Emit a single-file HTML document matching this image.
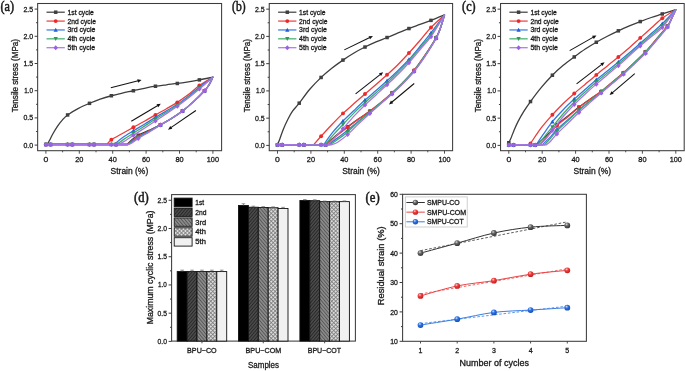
<!DOCTYPE html>
<html><head><meta charset="utf-8"><title>Cyclic tensile tests</title>
<style>html,body{margin:0;padding:0;background:#fff;width:685px;height:371px;overflow:hidden}
svg{display:block;will-change:transform}</style></head><body>
<svg width="685" height="371" viewBox="0 0 685 371" font-family='"Liberation Sans", sans-serif'><defs>
<pattern id="p2" patternUnits="userSpaceOnUse" width="2.4" height="2.4" patternTransform="rotate(40)">
 <rect width="2.4" height="2.4" fill="#4c4c4c"/><rect width="0.9" height="2.4" fill="#262626"/></pattern>
<pattern id="p3" patternUnits="userSpaceOnUse" width="2.5" height="2.5" patternTransform="rotate(-40)">
 <rect width="2.5" height="2.5" fill="#8c8c8c"/><rect width="0.9" height="2.5" fill="#555"/></pattern>
<pattern id="p4" patternUnits="userSpaceOnUse" width="2.76" height="2.76" patternTransform="rotate(45)">
 <rect width="2.76" height="2.76" fill="#dcdcdc"/><rect width="0.8" height="2.76" fill="#7c7c7c"/><rect width="2.76" height="0.8" fill="#7c7c7c"/></pattern>

<radialGradient id="gk" cx="0.38" cy="0.32" r="0.75"><stop offset="0" stop-color="#d8d8d8"/><stop offset="0.35" stop-color="#6a6a6a"/><stop offset="1" stop-color="#2a2a2a"/></radialGradient>
<radialGradient id="gr" cx="0.38" cy="0.32" r="0.75"><stop offset="0" stop-color="#ffd0d0"/><stop offset="0.35" stop-color="#f04040"/><stop offset="1" stop-color="#b81818"/></radialGradient>
<radialGradient id="gb" cx="0.38" cy="0.32" r="0.75"><stop offset="0" stop-color="#cfe0ff"/><stop offset="0.35" stop-color="#2f74e6"/><stop offset="1" stop-color="#1447a8"/></radialGradient>
</defs><rect width="685" height="371" fill="#fff"/>
<rect x="37.65" y="3.5" width="183.95" height="147.2" fill="none" stroke="#3c3c3c" stroke-width="1.05"/>
<line x1="45.9" y1="150.7" x2="45.9" y2="153.7" stroke="#3c3c3c" stroke-width="0.9"/>
<text x="45.9" y="161.7" font-size="7.6" text-anchor="middle" fill="#1a1a1a" stroke="#1a1a1a" stroke-width="0.3" textLength="4.8" lengthAdjust="spacingAndGlyphs">0</text>
<line x1="62.6" y1="150.7" x2="62.6" y2="152.3" stroke="#3c3c3c" stroke-width="0.9"/>
<line x1="79.3" y1="150.7" x2="79.3" y2="153.7" stroke="#3c3c3c" stroke-width="0.9"/>
<text x="79.3" y="161.7" font-size="7.6" text-anchor="middle" fill="#1a1a1a" stroke="#1a1a1a" stroke-width="0.3" textLength="8.2" lengthAdjust="spacingAndGlyphs">20</text>
<line x1="96" y1="150.7" x2="96" y2="152.3" stroke="#3c3c3c" stroke-width="0.9"/>
<line x1="112.7" y1="150.7" x2="112.7" y2="153.7" stroke="#3c3c3c" stroke-width="0.9"/>
<text x="112.7" y="161.7" font-size="7.6" text-anchor="middle" fill="#1a1a1a" stroke="#1a1a1a" stroke-width="0.3" textLength="8.2" lengthAdjust="spacingAndGlyphs">40</text>
<line x1="129.4" y1="150.7" x2="129.4" y2="152.3" stroke="#3c3c3c" stroke-width="0.9"/>
<line x1="146.1" y1="150.7" x2="146.1" y2="153.7" stroke="#3c3c3c" stroke-width="0.9"/>
<text x="146.1" y="161.7" font-size="7.6" text-anchor="middle" fill="#1a1a1a" stroke="#1a1a1a" stroke-width="0.3" textLength="8.2" lengthAdjust="spacingAndGlyphs">60</text>
<line x1="162.8" y1="150.7" x2="162.8" y2="152.3" stroke="#3c3c3c" stroke-width="0.9"/>
<line x1="179.5" y1="150.7" x2="179.5" y2="153.7" stroke="#3c3c3c" stroke-width="0.9"/>
<text x="179.5" y="161.7" font-size="7.6" text-anchor="middle" fill="#1a1a1a" stroke="#1a1a1a" stroke-width="0.3" textLength="8.2" lengthAdjust="spacingAndGlyphs">80</text>
<line x1="196.2" y1="150.7" x2="196.2" y2="152.3" stroke="#3c3c3c" stroke-width="0.9"/>
<line x1="212.9" y1="150.7" x2="212.9" y2="153.7" stroke="#3c3c3c" stroke-width="0.9"/>
<text x="212.9" y="161.7" font-size="7.6" text-anchor="middle" fill="#1a1a1a" stroke="#1a1a1a" stroke-width="0.3" textLength="12.2" lengthAdjust="spacingAndGlyphs">100</text>
<line x1="37.65" y1="145.1" x2="34.65" y2="145.1" stroke="#3c3c3c" stroke-width="1"/>
<text x="33.15" y="147.6" font-size="7.8" text-anchor="end" fill="#1a1a1a" stroke="#1a1a1a" stroke-width="0.3" textLength="9.7" lengthAdjust="spacingAndGlyphs">0.0</text>
<line x1="37.65" y1="131.5" x2="36.05" y2="131.5" stroke="#3c3c3c" stroke-width="1"/>
<line x1="37.65" y1="117.9" x2="34.65" y2="117.9" stroke="#3c3c3c" stroke-width="1"/>
<text x="33.15" y="120.4" font-size="7.8" text-anchor="end" fill="#1a1a1a" stroke="#1a1a1a" stroke-width="0.3" textLength="9.7" lengthAdjust="spacingAndGlyphs">0.5</text>
<line x1="37.65" y1="104.3" x2="36.05" y2="104.3" stroke="#3c3c3c" stroke-width="1"/>
<line x1="37.65" y1="90.7" x2="34.65" y2="90.7" stroke="#3c3c3c" stroke-width="1"/>
<text x="33.15" y="93.2" font-size="7.8" text-anchor="end" fill="#1a1a1a" stroke="#1a1a1a" stroke-width="0.3" textLength="8.8" lengthAdjust="spacingAndGlyphs">1.0</text>
<line x1="37.65" y1="77.1" x2="36.05" y2="77.1" stroke="#3c3c3c" stroke-width="1"/>
<line x1="37.65" y1="63.5" x2="34.65" y2="63.5" stroke="#3c3c3c" stroke-width="1"/>
<text x="33.15" y="66" font-size="7.8" text-anchor="end" fill="#1a1a1a" stroke="#1a1a1a" stroke-width="0.3" textLength="9.7" lengthAdjust="spacingAndGlyphs">1.5</text>
<line x1="37.65" y1="49.9" x2="36.05" y2="49.9" stroke="#3c3c3c" stroke-width="1"/>
<line x1="37.65" y1="36.3" x2="34.65" y2="36.3" stroke="#3c3c3c" stroke-width="1"/>
<text x="33.15" y="38.8" font-size="7.8" text-anchor="end" fill="#1a1a1a" stroke="#1a1a1a" stroke-width="0.3" textLength="9.7" lengthAdjust="spacingAndGlyphs">2.0</text>
<line x1="37.65" y1="22.7" x2="36.05" y2="22.7" stroke="#3c3c3c" stroke-width="1"/>
<line x1="37.65" y1="9.1" x2="34.65" y2="9.1" stroke="#3c3c3c" stroke-width="1"/>
<text x="33.15" y="11.6" font-size="7.8" text-anchor="end" fill="#1a1a1a" stroke="#1a1a1a" stroke-width="0.3" textLength="9.7" lengthAdjust="spacingAndGlyphs">2.5</text>
<text x="129.4" y="174.2" font-size="8.6" text-anchor="middle" fill="#1a1a1a" stroke="#1a1a1a" stroke-width="0.3" textLength="37.6" lengthAdjust="spacingAndGlyphs">Strain (%)</text>
<text x="18.1" y="75.6" font-size="8.3" text-anchor="middle" fill="#1a1a1a" stroke="#1a1a1a" stroke-width="0.3" textLength="73.2" lengthAdjust="spacingAndGlyphs" transform="rotate(-90 18.1 75.6)">Tensile stress (MPa)</text>
<text x="0.5" y="10.7" font-size="14.6" text-anchor="start" fill="#1a1a1a" stroke="#1a1a1a" stroke-width="0.55" textLength="13.6" lengthAdjust="spacingAndGlyphs" font-family='"Liberation Serif", serif'>(a)</text>
<path d="M45.9,144.5L47.24,144.5L47.24,144.5C47.63,143.79 48.63,142.05 49.57,140.25C50.52,138.46 51.58,136.08 52.91,133.73C54.25,131.37 56.03,128.38 57.59,126.11C59.15,123.84 60.6,121.98 62.27,120.13C63.94,118.27 64.91,116.91 67.61,114.96C70.31,113.01 74.79,110.38 78.47,108.43C82.14,106.48 86.04,104.8 89.65,103.26C93.27,101.72 96.56,100.43 100.17,99.18C103.79,97.93 107.66,96.78 111.36,95.75C115.07,94.73 118.71,93.87 122.39,93.03C126.06,92.2 129.73,91.54 133.41,90.75C137.08,89.96 140.76,89.05 144.43,88.3C148.1,87.55 151.78,86.82 155.45,86.23C159.13,85.65 162.83,85.23 166.47,84.77C170.12,84.3 173.68,83.96 177.33,83.46C180.98,82.96 184.68,82.37 188.35,81.77C192.03,81.18 195.28,80.64 199.37,79.87C203.46,79.1 210.65,77.6 212.9,77.15L212.9,77.15C212.2,78.51 210.12,83.04 208.72,85.31C207.33,87.58 207.08,88.03 204.55,90.75C202.02,93.47 197.2,98.25 193.53,101.63C189.85,105.01 186.18,108.23 182.51,111.04C178.83,113.85 175.16,116.21 171.48,118.49C167.81,120.77 164.14,122.79 160.46,124.72C156.79,126.65 153.14,128.32 149.44,130.08C145.74,131.84 141.17,133.66 138.25,135.26C135.33,136.86 133.77,138.17 131.91,139.71C130.04,141.25 127.87,143.7 127.06,144.5L46.4,144.25" fill="none" stroke="#3d3d3d" stroke-width="1.3" stroke-linejoin="round"/>
<rect x="44.15" y="142.75" width="3.5" height="3.5" fill="#404040"/>
<rect x="65.86" y="113.21" width="3.5" height="3.5" fill="#404040"/>
<rect x="87.74" y="101.59" width="3.5" height="3.5" fill="#404040"/>
<rect x="109.61" y="94" width="3.5" height="3.5" fill="#404040"/>
<rect x="131.66" y="89" width="3.5" height="3.5" fill="#404040"/>
<rect x="153.7" y="84.48" width="3.5" height="3.5" fill="#404040"/>
<rect x="175.58" y="81.71" width="3.5" height="3.5" fill="#404040"/>
<rect x="197.62" y="78.12" width="3.5" height="3.5" fill="#404040"/>
<rect x="202.8" y="89" width="3.5" height="3.5" fill="#404040"/>
<rect x="180.76" y="109.29" width="3.5" height="3.5" fill="#404040"/>
<rect x="158.71" y="122.97" width="3.5" height="3.5" fill="#404040"/>
<rect x="136.5" y="133.51" width="3.5" height="3.5" fill="#404040"/>
<rect x="114.29" y="142.75" width="3.5" height="3.5" fill="#404040"/>
<rect x="92.25" y="142.75" width="3.5" height="3.5" fill="#404040"/>
<rect x="70.54" y="142.75" width="3.5" height="3.5" fill="#404040"/>
<rect x="48.83" y="142.75" width="3.5" height="3.5" fill="#404040"/>
<path d="M45.9,144.5L106.69,144.5L106.69,144.5C107.47,143.7 108.75,141.55 111.36,139.71C113.98,137.87 118.71,135.52 122.39,133.45C126.06,131.39 129.73,129.35 133.41,127.31C137.08,125.27 140.76,123.29 144.43,121.21C148.1,119.14 151.78,116.93 155.45,114.85C159.13,112.76 162.83,110.79 166.47,108.7C170.12,106.62 173.68,104.69 177.33,102.34C180.98,99.98 184.68,97.36 188.35,94.56C192.03,91.76 195.28,88.43 199.37,85.53C203.46,82.63 210.65,78.55 212.9,77.15L212.9,77.15C212.2,78.51 210.12,83.04 208.72,85.31C207.33,87.58 207.08,88.03 204.55,90.75C202.02,93.47 197.2,98.25 193.53,101.63C189.85,105.01 186.18,108.23 182.51,111.04C178.83,113.85 175.16,116.2 171.48,118.49C167.81,120.79 164.14,122.79 160.46,124.82C156.79,126.85 153.14,128.74 149.44,130.66C145.74,132.58 141.17,134.64 138.25,136.33C135.33,138.02 133.69,139.44 131.91,140.8C130.12,142.16 128.29,143.88 127.56,144.5L46.4,144.25" fill="none" stroke="#ee3b3b" stroke-width="1.3" stroke-linejoin="round"/>
<circle cx="45.9" cy="144.5" r="1.95" fill="#ea2a2a"/>
<circle cx="67.61" cy="144.5" r="1.95" fill="#ea2a2a"/>
<circle cx="89.49" cy="144.5" r="1.95" fill="#ea2a2a"/>
<circle cx="111.36" cy="139.71" r="1.95" fill="#ea2a2a"/>
<circle cx="133.41" cy="127.31" r="1.95" fill="#ea2a2a"/>
<circle cx="155.45" cy="114.85" r="1.95" fill="#ea2a2a"/>
<circle cx="177.33" cy="102.34" r="1.95" fill="#ea2a2a"/>
<circle cx="199.37" cy="85.53" r="1.95" fill="#ea2a2a"/>
<circle cx="204.55" cy="90.75" r="1.95" fill="#ea2a2a"/>
<circle cx="182.51" cy="111.04" r="1.95" fill="#ea2a2a"/>
<circle cx="160.46" cy="124.82" r="1.95" fill="#ea2a2a"/>
<circle cx="138.25" cy="136.33" r="1.95" fill="#ea2a2a"/>
<circle cx="116.04" cy="144.5" r="1.95" fill="#ea2a2a"/>
<circle cx="94" cy="144.5" r="1.95" fill="#ea2a2a"/>
<circle cx="72.29" cy="144.5" r="1.95" fill="#ea2a2a"/>
<circle cx="50.58" cy="144.5" r="1.95" fill="#ea2a2a"/>
<path d="M45.9,144.5L114.04,144.5L114.04,144.5C115.48,143.34 119.49,139.81 122.72,137.53C125.95,135.26 129.79,133.06 133.41,130.84C137.03,128.62 140.76,126.45 144.43,124.21C148.1,121.96 151.78,119.57 155.45,117.35C159.13,115.13 162.83,113.04 166.47,110.88C170.12,108.71 173.68,106.8 177.33,104.35C180.98,101.9 184.68,99.05 188.35,96.19C192.03,93.33 195.28,90.39 199.37,87.21C203.46,84.04 210.65,78.83 212.9,77.15L212.9,77.15C212.2,78.51 210.12,83.04 208.72,85.31C207.33,87.58 207.08,88.03 204.55,90.75C202.02,93.47 197.2,98.25 193.53,101.63C189.85,105.01 186.18,108.23 182.51,111.04C178.83,113.85 175.16,116.19 171.48,118.49C167.81,120.8 164.14,122.79 160.46,124.9C156.79,127 153.14,129.06 149.44,131.1C145.74,133.14 141.17,135.37 138.25,137.13C135.33,138.88 133.66,140.39 131.91,141.61C130.15,142.84 128.43,144.02 127.73,144.5L46.4,144.25" fill="none" stroke="#3477e0" stroke-width="1.3" stroke-linejoin="round"/>
<path d="M45.9,142.25L48.05,146.25L43.75,146.25Z" fill="#1f5fd6"/>
<path d="M67.61,142.25L69.76,146.25L65.46,146.25Z" fill="#1f5fd6"/>
<path d="M89.49,142.25L91.64,146.25L87.34,146.25Z" fill="#1f5fd6"/>
<path d="M111.36,142.25L113.51,146.25L109.21,146.25Z" fill="#1f5fd6"/>
<path d="M133.41,128.59L135.56,132.59L131.26,132.59Z" fill="#1f5fd6"/>
<path d="M155.45,115.1L157.6,119.1L153.3,119.1Z" fill="#1f5fd6"/>
<path d="M177.33,102.1L179.48,106.1L175.18,106.1Z" fill="#1f5fd6"/>
<path d="M199.37,84.96L201.52,88.96L197.22,88.96Z" fill="#1f5fd6"/>
<path d="M204.55,88.5L206.7,92.5L202.4,92.5Z" fill="#1f5fd6"/>
<path d="M182.51,108.79L184.66,112.79L180.36,112.79Z" fill="#1f5fd6"/>
<path d="M160.46,122.65L162.61,126.65L158.31,126.65Z" fill="#1f5fd6"/>
<path d="M138.25,134.88L140.4,138.88L136.1,138.88Z" fill="#1f5fd6"/>
<path d="M116.04,142.25L118.19,146.25L113.89,146.25Z" fill="#1f5fd6"/>
<path d="M94,142.25L96.15,146.25L91.85,146.25Z" fill="#1f5fd6"/>
<path d="M72.29,142.25L74.44,146.25L70.14,146.25Z" fill="#1f5fd6"/>
<path d="M50.58,142.25L52.73,146.25L48.43,146.25Z" fill="#1f5fd6"/>
<path d="M45.9,144.5L116.54,144.5L116.54,144.5C117.85,143.56 121.58,140.8 124.39,138.89C127.2,136.99 130.07,135.2 133.41,133.07C136.75,130.94 140.76,128.45 144.43,126.11C148.1,123.77 151.78,121.35 155.45,119.04C159.13,116.73 162.83,114.5 166.47,112.24C170.12,109.97 173.68,107.93 177.33,105.44C180.98,102.94 184.68,100.13 188.35,97.28C192.03,94.42 195.28,91.66 199.37,88.3C203.46,84.95 210.65,79.01 212.9,77.15L212.9,77.15C212.2,78.51 210.12,83.04 208.72,85.31C207.33,87.58 207.08,88.03 204.55,90.75C202.02,93.47 197.2,98.25 193.53,101.63C189.85,105.01 186.18,108.23 182.51,111.04C178.83,113.85 175.16,116.17 171.48,118.49C167.81,120.81 164.14,122.8 160.46,124.96C156.79,127.12 153.14,129.33 149.44,131.47C145.74,133.62 141.17,136.01 138.25,137.82C135.33,139.63 133.6,141.21 131.91,142.32C130.21,143.43 128.7,144.13 128.06,144.5L46.4,144.25" fill="none" stroke="#3cae68" stroke-width="1.3" stroke-linejoin="round"/>
<path d="M45.9,146.75L48.05,142.75L43.75,142.75Z" fill="#2a9c55"/>
<path d="M67.61,146.75L69.76,142.75L65.46,142.75Z" fill="#2a9c55"/>
<path d="M89.49,146.75L91.64,142.75L87.34,142.75Z" fill="#2a9c55"/>
<path d="M111.36,146.75L113.51,142.75L109.21,142.75Z" fill="#2a9c55"/>
<path d="M133.41,135.32L135.56,131.32L131.26,131.32Z" fill="#2a9c55"/>
<path d="M155.45,121.29L157.6,117.29L153.3,117.29Z" fill="#2a9c55"/>
<path d="M177.33,107.69L179.48,103.69L175.18,103.69Z" fill="#2a9c55"/>
<path d="M199.37,90.55L201.52,86.55L197.22,86.55Z" fill="#2a9c55"/>
<path d="M204.55,93L206.7,89L202.4,89Z" fill="#2a9c55"/>
<path d="M182.51,113.29L184.66,109.29L180.36,109.29Z" fill="#2a9c55"/>
<path d="M160.46,127.21L162.61,123.21L158.31,123.21Z" fill="#2a9c55"/>
<path d="M138.25,140.07L140.4,136.07L136.1,136.07Z" fill="#2a9c55"/>
<path d="M116.04,146.75L118.19,142.75L113.89,142.75Z" fill="#2a9c55"/>
<path d="M94,146.75L96.15,142.75L91.85,142.75Z" fill="#2a9c55"/>
<path d="M72.29,146.75L74.44,142.75L70.14,142.75Z" fill="#2a9c55"/>
<path d="M50.58,146.75L52.73,142.75L48.43,142.75Z" fill="#2a9c55"/>
<path d="M45.9,144.5L118.71,144.5L118.71,144.5C119.88,143.84 123.28,142.05 125.73,140.53C128.18,139 130.29,137.42 133.41,135.36C136.53,133.3 140.76,130.58 144.43,128.18C148.1,125.77 151.78,123.37 155.45,120.94C159.13,118.51 162.83,116.05 166.47,113.6C170.12,111.15 173.68,108.84 177.33,106.25C180.98,103.67 184.68,100.95 188.35,98.09C192.03,95.24 195.28,92.61 199.37,89.12C203.46,85.63 210.65,79.14 212.9,77.15L212.9,77.15C212.2,78.51 210.12,83.04 208.72,85.31C207.33,87.58 207.08,88.03 204.55,90.75C202.02,93.47 197.2,98.25 193.53,101.63C189.85,105.01 186.18,108.23 182.51,111.04C178.83,113.85 175.16,116.16 171.48,118.49C167.81,120.82 164.14,122.8 160.46,125.02C156.79,127.24 153.14,129.58 149.44,131.82C145.74,134.06 141.17,136.6 138.25,138.46C135.33,140.32 133.57,141.97 131.91,142.97C130.24,143.98 128.84,144.24 128.23,144.5L46.4,144.25" fill="none" stroke="#a874e8" stroke-width="1.3" stroke-linejoin="round"/>
<path d="M45.9,142L48.2,144.5L45.9,147L43.6,144.5Z" fill="#9c60e4"/>
<path d="M67.61,142L69.91,144.5L67.61,147L65.31,144.5Z" fill="#9c60e4"/>
<path d="M89.49,142L91.79,144.5L89.49,147L87.19,144.5Z" fill="#9c60e4"/>
<path d="M111.36,142L113.66,144.5L111.36,147L109.06,144.5Z" fill="#9c60e4"/>
<path d="M133.41,132.86L135.71,135.36L133.41,137.86L131.11,135.36Z" fill="#9c60e4"/>
<path d="M155.45,118.44L157.75,120.94L155.45,123.44L153.15,120.94Z" fill="#9c60e4"/>
<path d="M177.33,103.75L179.63,106.25L177.33,108.75L175.03,106.25Z" fill="#9c60e4"/>
<path d="M199.37,86.62L201.67,89.12L199.37,91.62L197.07,89.12Z" fill="#9c60e4"/>
<path d="M204.55,88.25L206.85,90.75L204.55,93.25L202.25,90.75Z" fill="#9c60e4"/>
<path d="M182.51,108.54L184.81,111.04L182.51,113.54L180.21,111.04Z" fill="#9c60e4"/>
<path d="M160.46,122.52L162.76,125.02L160.46,127.52L158.16,125.02Z" fill="#9c60e4"/>
<path d="M138.25,135.96L140.55,138.46L138.25,140.96L135.95,138.46Z" fill="#9c60e4"/>
<path d="M116.04,142L118.34,144.5L116.04,147L113.74,144.5Z" fill="#9c60e4"/>
<path d="M94,142L96.3,144.5L94,147L91.7,144.5Z" fill="#9c60e4"/>
<path d="M72.29,142L74.59,144.5L72.29,147L69.99,144.5Z" fill="#9c60e4"/>
<path d="M50.58,142L52.88,144.5L50.58,147L48.28,144.5Z" fill="#9c60e4"/>
<line x1="46.5" y1="12.2" x2="64.8" y2="12.2" stroke="#3d3d3d" stroke-width="1.2"/>
<rect x="53.95" y="10.45" width="3.5" height="3.5" fill="#404040"/>
<text x="67.5" y="14.65" font-size="7.2" text-anchor="start" fill="#1a1a1a" stroke="#1a1a1a" stroke-width="0.3" textLength="26.3" lengthAdjust="spacingAndGlyphs">1st cycle</text>
<line x1="46.5" y1="21.08" x2="64.8" y2="21.08" stroke="#ee3b3b" stroke-width="1.2"/>
<circle cx="55.7" cy="21.08" r="1.95" fill="#ea2a2a"/>
<text x="67.5" y="23.53" font-size="7.2" text-anchor="start" fill="#1a1a1a" stroke="#1a1a1a" stroke-width="0.3" textLength="28.4" lengthAdjust="spacingAndGlyphs">2nd cycle</text>
<line x1="46.5" y1="29.96" x2="64.8" y2="29.96" stroke="#3477e0" stroke-width="1.2"/>
<path d="M55.7,27.71L57.85,31.71L53.55,31.71Z" fill="#1f5fd6"/>
<text x="67.5" y="32.41" font-size="7.2" text-anchor="start" fill="#1a1a1a" stroke="#1a1a1a" stroke-width="0.3" textLength="27.8" lengthAdjust="spacingAndGlyphs">3rd cycle</text>
<line x1="46.5" y1="38.84" x2="64.8" y2="38.84" stroke="#3cae68" stroke-width="1.2"/>
<path d="M55.7,41.09L57.85,37.09L53.55,37.09Z" fill="#2a9c55"/>
<text x="67.5" y="41.29" font-size="7.2" text-anchor="start" fill="#1a1a1a" stroke="#1a1a1a" stroke-width="0.3" textLength="27.6" lengthAdjust="spacingAndGlyphs">4th cycle</text>
<line x1="46.5" y1="47.72" x2="64.8" y2="47.72" stroke="#a874e8" stroke-width="1.2"/>
<path d="M55.7,45.22L58,47.72L55.7,50.22L53.4,47.72Z" fill="#9c60e4"/>
<text x="67.5" y="50.17" font-size="7.2" text-anchor="start" fill="#1a1a1a" stroke="#1a1a1a" stroke-width="0.3" textLength="27.6" lengthAdjust="spacingAndGlyphs">5th cycle</text>
<rect x="269.25" y="3.5" width="183.35" height="147.2" fill="none" stroke="#3c3c3c" stroke-width="1.05"/>
<line x1="277.5" y1="150.7" x2="277.5" y2="153.7" stroke="#3c3c3c" stroke-width="0.9"/>
<text x="277.5" y="161.7" font-size="7.6" text-anchor="middle" fill="#1a1a1a" stroke="#1a1a1a" stroke-width="0.3" textLength="4.8" lengthAdjust="spacingAndGlyphs">0</text>
<line x1="294.2" y1="150.7" x2="294.2" y2="152.3" stroke="#3c3c3c" stroke-width="0.9"/>
<line x1="310.9" y1="150.7" x2="310.9" y2="153.7" stroke="#3c3c3c" stroke-width="0.9"/>
<text x="310.9" y="161.7" font-size="7.6" text-anchor="middle" fill="#1a1a1a" stroke="#1a1a1a" stroke-width="0.3" textLength="8.2" lengthAdjust="spacingAndGlyphs">20</text>
<line x1="327.6" y1="150.7" x2="327.6" y2="152.3" stroke="#3c3c3c" stroke-width="0.9"/>
<line x1="344.3" y1="150.7" x2="344.3" y2="153.7" stroke="#3c3c3c" stroke-width="0.9"/>
<text x="344.3" y="161.7" font-size="7.6" text-anchor="middle" fill="#1a1a1a" stroke="#1a1a1a" stroke-width="0.3" textLength="8.2" lengthAdjust="spacingAndGlyphs">40</text>
<line x1="361" y1="150.7" x2="361" y2="152.3" stroke="#3c3c3c" stroke-width="0.9"/>
<line x1="377.7" y1="150.7" x2="377.7" y2="153.7" stroke="#3c3c3c" stroke-width="0.9"/>
<text x="377.7" y="161.7" font-size="7.6" text-anchor="middle" fill="#1a1a1a" stroke="#1a1a1a" stroke-width="0.3" textLength="8.2" lengthAdjust="spacingAndGlyphs">60</text>
<line x1="394.4" y1="150.7" x2="394.4" y2="152.3" stroke="#3c3c3c" stroke-width="0.9"/>
<line x1="411.1" y1="150.7" x2="411.1" y2="153.7" stroke="#3c3c3c" stroke-width="0.9"/>
<text x="411.1" y="161.7" font-size="7.6" text-anchor="middle" fill="#1a1a1a" stroke="#1a1a1a" stroke-width="0.3" textLength="8.2" lengthAdjust="spacingAndGlyphs">80</text>
<line x1="427.8" y1="150.7" x2="427.8" y2="152.3" stroke="#3c3c3c" stroke-width="0.9"/>
<line x1="444.5" y1="150.7" x2="444.5" y2="153.7" stroke="#3c3c3c" stroke-width="0.9"/>
<text x="444.5" y="161.7" font-size="7.6" text-anchor="middle" fill="#1a1a1a" stroke="#1a1a1a" stroke-width="0.3" textLength="12.2" lengthAdjust="spacingAndGlyphs">100</text>
<line x1="269.25" y1="145.4" x2="266.25" y2="145.4" stroke="#3c3c3c" stroke-width="1"/>
<text x="264.75" y="147.9" font-size="7.8" text-anchor="end" fill="#1a1a1a" stroke="#1a1a1a" stroke-width="0.3" textLength="9.7" lengthAdjust="spacingAndGlyphs">0.0</text>
<line x1="269.25" y1="131.78" x2="267.65" y2="131.78" stroke="#3c3c3c" stroke-width="1"/>
<line x1="269.25" y1="118.15" x2="266.25" y2="118.15" stroke="#3c3c3c" stroke-width="1"/>
<text x="264.75" y="120.65" font-size="7.8" text-anchor="end" fill="#1a1a1a" stroke="#1a1a1a" stroke-width="0.3" textLength="9.7" lengthAdjust="spacingAndGlyphs">0.5</text>
<line x1="269.25" y1="104.53" x2="267.65" y2="104.53" stroke="#3c3c3c" stroke-width="1"/>
<line x1="269.25" y1="90.9" x2="266.25" y2="90.9" stroke="#3c3c3c" stroke-width="1"/>
<text x="264.75" y="93.4" font-size="7.8" text-anchor="end" fill="#1a1a1a" stroke="#1a1a1a" stroke-width="0.3" textLength="8.8" lengthAdjust="spacingAndGlyphs">1.0</text>
<line x1="269.25" y1="77.28" x2="267.65" y2="77.28" stroke="#3c3c3c" stroke-width="1"/>
<line x1="269.25" y1="63.65" x2="266.25" y2="63.65" stroke="#3c3c3c" stroke-width="1"/>
<text x="264.75" y="66.15" font-size="7.8" text-anchor="end" fill="#1a1a1a" stroke="#1a1a1a" stroke-width="0.3" textLength="9.7" lengthAdjust="spacingAndGlyphs">1.5</text>
<line x1="269.25" y1="50.03" x2="267.65" y2="50.03" stroke="#3c3c3c" stroke-width="1"/>
<line x1="269.25" y1="36.4" x2="266.25" y2="36.4" stroke="#3c3c3c" stroke-width="1"/>
<text x="264.75" y="38.9" font-size="7.8" text-anchor="end" fill="#1a1a1a" stroke="#1a1a1a" stroke-width="0.3" textLength="9.7" lengthAdjust="spacingAndGlyphs">2.0</text>
<line x1="269.25" y1="22.78" x2="267.65" y2="22.78" stroke="#3c3c3c" stroke-width="1"/>
<line x1="269.25" y1="9.15" x2="266.25" y2="9.15" stroke="#3c3c3c" stroke-width="1"/>
<text x="264.75" y="11.65" font-size="7.8" text-anchor="end" fill="#1a1a1a" stroke="#1a1a1a" stroke-width="0.3" textLength="9.7" lengthAdjust="spacingAndGlyphs">2.5</text>
<text x="361" y="174.2" font-size="8.6" text-anchor="middle" fill="#1a1a1a" stroke="#1a1a1a" stroke-width="0.3" textLength="37.6" lengthAdjust="spacingAndGlyphs">Strain (%)</text>
<text x="249.7" y="75.6" font-size="8.3" text-anchor="middle" fill="#1a1a1a" stroke="#1a1a1a" stroke-width="0.3" textLength="73.2" lengthAdjust="spacingAndGlyphs" transform="rotate(-90 249.7 75.6)">Tensile stress (MPa)</text>
<text x="232.1" y="10.7" font-size="14.6" text-anchor="start" fill="#1a1a1a" stroke="#1a1a1a" stroke-width="0.55" textLength="13.6" lengthAdjust="spacingAndGlyphs" font-family='"Liberation Serif", serif'>(b)</text>
<path d="M277.5,144.85C277.92,143.78 279.03,141.04 280,138.43C280.98,135.82 282.09,132.26 283.35,129.18C284.6,126.1 285.99,122.92 287.52,119.93C289.05,116.94 290.64,113.95 292.53,111.23C294.42,108.51 296.04,107.24 298.88,103.61C301.71,99.99 305.89,93.8 309.56,89.47C313.24,85.13 317.22,81.14 320.92,77.61C324.62,74.07 328.1,71.17 331.77,68.25C335.45,65.33 339.26,62.63 342.96,60.09C346.67,57.55 350.31,55.2 353.99,53.02C357.66,50.84 361.33,48.89 365.01,47.04C368.68,45.18 372.36,43.45 376.03,41.87C379.7,40.28 383.38,39.01 387.05,37.52C390.73,36.02 394.43,34.39 398.07,32.89C401.72,31.4 405.28,29.95 408.93,28.54C412.58,27.13 416.28,25.82 419.95,24.46C423.62,23.1 426.88,21.97 430.97,20.38C435.06,18.79 442.25,15.85 444.5,14.94L444.5,14.94C443.8,17.16 441.72,24.47 440.32,28.28C438.93,32.1 438.68,33.29 436.15,37.82C433.62,42.35 428.8,49.99 425.13,55.47C421.45,60.95 417.78,66.17 414.11,70.7C410.43,75.23 406.76,78.92 403.08,82.67C399.41,86.41 395.74,89.81 392.06,93.17C388.39,96.52 384.74,99.76 381.04,102.8C377.34,105.83 373.58,108.73 369.85,111.39C366.12,114.06 362.36,116.21 358.66,118.77C354.96,121.33 351.15,124.14 347.64,126.73C344.13,129.33 341.35,131.33 337.62,134.35C333.89,137.37 327.32,143.1 325.26,144.85L278,144.6" fill="none" stroke="#3d3d3d" stroke-width="1.3" stroke-linejoin="round"/>
<rect x="275.75" y="143.1" width="3.5" height="3.5" fill="#404040"/>
<rect x="297.46" y="101.42" width="3.5" height="3.5" fill="#404040"/>
<rect x="319.34" y="75.71" width="3.5" height="3.5" fill="#404040"/>
<rect x="341.21" y="58.34" width="3.5" height="3.5" fill="#404040"/>
<rect x="363.26" y="45.29" width="3.5" height="3.5" fill="#404040"/>
<rect x="385.3" y="35.77" width="3.5" height="3.5" fill="#404040"/>
<rect x="407.18" y="26.79" width="3.5" height="3.5" fill="#404040"/>
<rect x="429.22" y="18.63" width="3.5" height="3.5" fill="#404040"/>
<rect x="434.4" y="36.07" width="3.5" height="3.5" fill="#404040"/>
<rect x="412.36" y="68.95" width="3.5" height="3.5" fill="#404040"/>
<rect x="390.31" y="91.42" width="3.5" height="3.5" fill="#404040"/>
<rect x="368.1" y="109.64" width="3.5" height="3.5" fill="#404040"/>
<rect x="345.89" y="124.98" width="3.5" height="3.5" fill="#404040"/>
<rect x="323.85" y="143.1" width="3.5" height="3.5" fill="#404040"/>
<rect x="302.14" y="143.1" width="3.5" height="3.5" fill="#404040"/>
<rect x="280.43" y="143.1" width="3.5" height="3.5" fill="#404040"/>
<path d="M277.5,144.85L313.57,144.85L313.57,144.85C314.82,143.41 318.03,139.63 321.09,136.25C324.15,132.87 328.3,128.36 331.94,124.56C335.59,120.75 339.29,116.89 342.96,113.4C346.64,109.91 350.31,106.85 353.99,103.61C357.66,100.38 361.33,97.16 365.01,93.98C368.68,90.81 372.36,87.77 376.03,84.57C379.7,81.37 383.38,78.13 387.05,74.78C390.73,71.43 394.43,68.07 398.07,64.44C401.72,60.82 405.28,57.01 408.93,53.02C412.58,49.03 416.28,44.77 419.95,40.51C423.62,36.25 426.88,31.71 430.97,27.45C435.06,23.19 442.25,17.03 444.5,14.94L444.5,14.94C443.8,17.14 441.72,24.36 440.32,28.12C438.93,31.87 438.68,33.01 436.15,37.48C433.62,41.95 428.8,49.48 425.13,54.92C421.45,60.37 417.78,65.62 414.11,70.16C410.43,74.69 406.76,78.38 403.08,82.12C399.41,85.87 395.74,89.27 392.06,92.62C388.39,95.98 384.74,99.18 381.04,102.25C377.34,105.32 373.58,108.27 369.85,111.03C366.12,113.8 362.36,116.16 358.66,118.86C354.96,121.57 351.15,124.6 347.64,127.28C344.13,129.95 341.15,131.96 337.62,134.89C334.09,137.82 328.3,143.19 326.43,144.85L278,144.6" fill="none" stroke="#ee3b3b" stroke-width="1.3" stroke-linejoin="round"/>
<circle cx="277.5" cy="144.85" r="1.95" fill="#ea2a2a"/>
<circle cx="299.21" cy="144.85" r="1.95" fill="#ea2a2a"/>
<circle cx="321.09" cy="136.25" r="1.95" fill="#ea2a2a"/>
<circle cx="342.96" cy="113.4" r="1.95" fill="#ea2a2a"/>
<circle cx="365.01" cy="93.98" r="1.95" fill="#ea2a2a"/>
<circle cx="387.05" cy="74.78" r="1.95" fill="#ea2a2a"/>
<circle cx="408.93" cy="53.02" r="1.95" fill="#ea2a2a"/>
<circle cx="430.97" cy="27.45" r="1.95" fill="#ea2a2a"/>
<circle cx="436.15" cy="37.48" r="1.95" fill="#ea2a2a"/>
<circle cx="414.11" cy="70.16" r="1.95" fill="#ea2a2a"/>
<circle cx="392.06" cy="92.62" r="1.95" fill="#ea2a2a"/>
<circle cx="369.85" cy="111.03" r="1.95" fill="#ea2a2a"/>
<circle cx="347.64" cy="127.28" r="1.95" fill="#ea2a2a"/>
<circle cx="325.6" cy="144.85" r="1.95" fill="#ea2a2a"/>
<circle cx="303.89" cy="144.85" r="1.95" fill="#ea2a2a"/>
<circle cx="282.18" cy="144.85" r="1.95" fill="#ea2a2a"/>
<path d="M277.5,144.85L323.59,144.85L323.59,144.85C325.09,142.78 329.38,136.42 332.61,132.44C335.84,128.47 339.4,124.69 342.96,121.02C346.53,117.35 350.31,113.9 353.99,110.41C357.66,106.92 361.33,103.39 365.01,100.08C368.68,96.77 372.36,93.77 376.03,90.56C379.7,87.34 383.38,84.12 387.05,80.76C390.73,77.41 394.43,73.96 398.07,70.43C401.72,66.89 405.28,63.54 408.93,59.55C412.58,55.56 416.28,50.93 419.95,46.49C423.62,42.05 426.88,38.15 430.97,32.89C435.06,27.63 442.25,17.93 444.5,14.94L444.5,14.94C443.8,17.18 441.72,24.53 440.32,28.37C438.93,32.21 438.68,33.43 436.15,37.99C433.62,42.55 428.8,50.24 425.13,55.74C421.45,61.24 417.78,66.44 414.11,70.97C410.43,75.51 406.76,79.2 403.08,82.94C399.41,86.68 395.74,90.08 392.06,93.44C388.39,96.79 384.74,99.94 381.04,103.07C377.34,106.2 373.58,109.24 369.85,112.22C366.12,115.2 362.36,117.95 358.66,120.96C354.96,123.97 351.15,127.45 347.64,130.27C344.13,133.09 340.88,135.45 337.62,137.88C334.36,140.31 329.69,143.69 328.1,144.85L278,144.6" fill="none" stroke="#3477e0" stroke-width="1.3" stroke-linejoin="round"/>
<path d="M277.5,142.6L279.65,146.6L275.35,146.6Z" fill="#1f5fd6"/>
<path d="M299.21,142.6L301.36,146.6L297.06,146.6Z" fill="#1f5fd6"/>
<path d="M321.09,142.6L323.24,146.6L318.94,146.6Z" fill="#1f5fd6"/>
<path d="M342.96,118.77L345.11,122.77L340.81,122.77Z" fill="#1f5fd6"/>
<path d="M365.01,97.83L367.16,101.83L362.86,101.83Z" fill="#1f5fd6"/>
<path d="M387.05,78.51L389.2,82.51L384.9,82.51Z" fill="#1f5fd6"/>
<path d="M408.93,57.3L411.08,61.3L406.78,61.3Z" fill="#1f5fd6"/>
<path d="M430.97,30.64L433.12,34.64L428.82,34.64Z" fill="#1f5fd6"/>
<path d="M436.15,35.74L438.3,39.74L434,39.74Z" fill="#1f5fd6"/>
<path d="M414.11,68.72L416.26,72.72L411.96,72.72Z" fill="#1f5fd6"/>
<path d="M392.06,91.19L394.21,95.19L389.91,95.19Z" fill="#1f5fd6"/>
<path d="M369.85,109.97L372,113.97L367.7,113.97Z" fill="#1f5fd6"/>
<path d="M347.64,128.02L349.79,132.02L345.49,132.02Z" fill="#1f5fd6"/>
<path d="M325.6,142.6L327.75,146.6L323.45,146.6Z" fill="#1f5fd6"/>
<path d="M303.89,142.6L306.04,146.6L301.74,146.6Z" fill="#1f5fd6"/>
<path d="M282.18,142.6L284.33,146.6L280.03,146.6Z" fill="#1f5fd6"/>
<path d="M277.5,144.85L325.1,144.85L325.1,144.85C326.49,143.14 330.47,138 333.44,134.62C336.42,131.24 339.54,128.18 342.96,124.56C346.39,120.93 350.31,116.53 353.99,112.86C357.66,109.19 361.33,105.88 365.01,102.52C368.68,99.17 372.36,96 376.03,92.73C379.7,89.47 383.38,86.34 387.05,82.94C390.73,79.54 394.43,75.96 398.07,72.33C401.72,68.71 405.28,65.21 408.93,61.18C412.58,57.15 416.28,52.48 419.95,48.12C423.62,43.77 426.88,40.6 430.97,35.07C435.06,29.54 442.25,18.29 444.5,14.94L444.5,14.94C443.8,17.16 441.72,24.47 440.32,28.28C438.93,32.1 438.68,33.29 436.15,37.82C433.62,42.35 428.8,49.99 425.13,55.47C421.45,60.95 417.78,66.17 414.11,70.7C410.43,75.23 406.76,78.92 403.08,82.67C399.41,86.41 395.74,89.81 392.06,93.17C388.39,96.52 384.74,99.61 381.04,102.8C377.34,105.98 373.58,109.1 369.85,112.27C366.12,115.43 362.36,118.53 358.66,121.81C354.96,125.08 351.15,128.95 347.64,131.9C344.13,134.85 340.63,137.36 337.62,139.52C334.61,141.67 330.94,143.96 329.6,144.85L278,144.6" fill="none" stroke="#3cae68" stroke-width="1.3" stroke-linejoin="round"/>
<path d="M277.5,147.1L279.65,143.1L275.35,143.1Z" fill="#2a9c55"/>
<path d="M299.21,147.1L301.36,143.1L297.06,143.1Z" fill="#2a9c55"/>
<path d="M321.09,147.1L323.24,143.1L318.94,143.1Z" fill="#2a9c55"/>
<path d="M342.96,126.81L345.11,122.81L340.81,122.81Z" fill="#2a9c55"/>
<path d="M365.01,104.77L367.16,100.77L362.86,100.77Z" fill="#2a9c55"/>
<path d="M387.05,85.19L389.2,81.19L384.9,81.19Z" fill="#2a9c55"/>
<path d="M408.93,63.43L411.08,59.43L406.78,59.43Z" fill="#2a9c55"/>
<path d="M430.97,37.32L433.12,33.32L428.82,33.32Z" fill="#2a9c55"/>
<path d="M436.15,40.07L438.3,36.07L434,36.07Z" fill="#2a9c55"/>
<path d="M414.11,72.95L416.26,68.95L411.96,68.95Z" fill="#2a9c55"/>
<path d="M392.06,95.42L394.21,91.42L389.91,91.42Z" fill="#2a9c55"/>
<path d="M369.85,114.52L372,110.52L367.7,110.52Z" fill="#2a9c55"/>
<path d="M347.64,134.15L349.79,130.15L345.49,130.15Z" fill="#2a9c55"/>
<path d="M325.6,147.1L327.75,143.1L323.45,143.1Z" fill="#2a9c55"/>
<path d="M303.89,147.1L306.04,143.1L301.74,143.1Z" fill="#2a9c55"/>
<path d="M282.18,147.1L284.33,143.1L280.03,143.1Z" fill="#2a9c55"/>
<path d="M277.5,144.85L327.27,144.85L327.27,144.85C328.44,143.69 331.66,140.59 334.28,137.88C336.9,135.18 339.68,132.26 342.96,128.64C346.25,125.01 350.31,120.08 353.99,116.12C357.66,112.17 361.33,108.45 365.01,104.92C368.68,101.38 372.36,98.26 376.03,94.91C379.7,91.55 383.38,88.23 387.05,84.79C390.73,81.34 394.43,77.9 398.07,74.24C401.72,70.57 405.28,66.89 408.93,62.81C412.58,58.73 416.28,54.11 419.95,49.76C423.62,45.4 426.88,42.5 430.97,36.7C435.06,30.9 442.25,18.57 444.5,14.94L444.5,14.94C443.8,17.21 441.72,24.64 440.32,28.54C438.93,32.44 438.68,33.71 436.15,38.33C433.62,42.96 428.8,50.75 425.13,56.28C421.45,61.81 417.78,66.98 414.11,71.52C410.43,76.05 406.76,79.74 403.08,83.48C399.41,87.23 395.74,90.63 392.06,93.98C388.39,97.34 384.74,100.38 381.04,103.61C377.34,106.85 373.58,110.05 369.85,113.4C366.12,116.76 362.36,120.2 358.66,123.74C354.96,127.28 351.15,131.54 347.64,134.62C344.13,137.7 340.35,140.53 337.62,142.24C334.89,143.94 332.33,144.41 331.27,144.85L278,144.6" fill="none" stroke="#a874e8" stroke-width="1.3" stroke-linejoin="round"/>
<path d="M277.5,142.35L279.8,144.85L277.5,147.35L275.2,144.85Z" fill="#9c60e4"/>
<path d="M299.21,142.35L301.51,144.85L299.21,147.35L296.91,144.85Z" fill="#9c60e4"/>
<path d="M321.09,142.35L323.39,144.85L321.09,147.35L318.79,144.85Z" fill="#9c60e4"/>
<path d="M342.96,126.14L345.26,128.64L342.96,131.14L340.66,128.64Z" fill="#9c60e4"/>
<path d="M365.01,102.42L367.31,104.92L365.01,107.42L362.71,104.92Z" fill="#9c60e4"/>
<path d="M387.05,82.29L389.35,84.79L387.05,87.29L384.75,84.79Z" fill="#9c60e4"/>
<path d="M408.93,60.31L411.23,62.81L408.93,65.31L406.63,62.81Z" fill="#9c60e4"/>
<path d="M430.97,34.2L433.27,36.7L430.97,39.2L428.67,36.7Z" fill="#9c60e4"/>
<path d="M436.15,35.83L438.45,38.33L436.15,40.83L433.85,38.33Z" fill="#9c60e4"/>
<path d="M414.11,69.02L416.41,71.52L414.11,74.02L411.81,71.52Z" fill="#9c60e4"/>
<path d="M392.06,91.48L394.36,93.98L392.06,96.48L389.76,93.98Z" fill="#9c60e4"/>
<path d="M369.85,110.9L372.15,113.4L369.85,115.9L367.55,113.4Z" fill="#9c60e4"/>
<path d="M347.64,132.12L349.94,134.62L347.64,137.12L345.34,134.62Z" fill="#9c60e4"/>
<path d="M325.6,142.35L327.9,144.85L325.6,147.35L323.3,144.85Z" fill="#9c60e4"/>
<path d="M303.89,142.35L306.19,144.85L303.89,147.35L301.59,144.85Z" fill="#9c60e4"/>
<path d="M282.18,142.35L284.48,144.85L282.18,147.35L279.88,144.85Z" fill="#9c60e4"/>
<line x1="278.1" y1="12.2" x2="296.4" y2="12.2" stroke="#3d3d3d" stroke-width="1.2"/>
<rect x="285.55" y="10.45" width="3.5" height="3.5" fill="#404040"/>
<text x="299.1" y="14.65" font-size="7.2" text-anchor="start" fill="#1a1a1a" stroke="#1a1a1a" stroke-width="0.3" textLength="26.3" lengthAdjust="spacingAndGlyphs">1st cycle</text>
<line x1="278.1" y1="21.08" x2="296.4" y2="21.08" stroke="#ee3b3b" stroke-width="1.2"/>
<circle cx="287.3" cy="21.08" r="1.95" fill="#ea2a2a"/>
<text x="299.1" y="23.53" font-size="7.2" text-anchor="start" fill="#1a1a1a" stroke="#1a1a1a" stroke-width="0.3" textLength="28.4" lengthAdjust="spacingAndGlyphs">2nd cycle</text>
<line x1="278.1" y1="29.96" x2="296.4" y2="29.96" stroke="#3477e0" stroke-width="1.2"/>
<path d="M287.3,27.71L289.45,31.71L285.15,31.71Z" fill="#1f5fd6"/>
<text x="299.1" y="32.41" font-size="7.2" text-anchor="start" fill="#1a1a1a" stroke="#1a1a1a" stroke-width="0.3" textLength="27.8" lengthAdjust="spacingAndGlyphs">3rd cycle</text>
<line x1="278.1" y1="38.84" x2="296.4" y2="38.84" stroke="#3cae68" stroke-width="1.2"/>
<path d="M287.3,41.09L289.45,37.09L285.15,37.09Z" fill="#2a9c55"/>
<text x="299.1" y="41.29" font-size="7.2" text-anchor="start" fill="#1a1a1a" stroke="#1a1a1a" stroke-width="0.3" textLength="27.6" lengthAdjust="spacingAndGlyphs">4th cycle</text>
<line x1="278.1" y1="47.72" x2="296.4" y2="47.72" stroke="#a874e8" stroke-width="1.2"/>
<path d="M287.3,45.22L289.6,47.72L287.3,50.22L285,47.72Z" fill="#9c60e4"/>
<text x="299.1" y="50.17" font-size="7.2" text-anchor="start" fill="#1a1a1a" stroke="#1a1a1a" stroke-width="0.3" textLength="27.6" lengthAdjust="spacingAndGlyphs">5th cycle</text>
<rect x="500.55" y="3.5" width="183.65" height="147.2" fill="none" stroke="#3c3c3c" stroke-width="1.05"/>
<line x1="508.8" y1="150.7" x2="508.8" y2="153.7" stroke="#3c3c3c" stroke-width="0.9"/>
<text x="508.8" y="161.7" font-size="7.6" text-anchor="middle" fill="#1a1a1a" stroke="#1a1a1a" stroke-width="0.3" textLength="4.8" lengthAdjust="spacingAndGlyphs">0</text>
<line x1="525.5" y1="150.7" x2="525.5" y2="152.3" stroke="#3c3c3c" stroke-width="0.9"/>
<line x1="542.2" y1="150.7" x2="542.2" y2="153.7" stroke="#3c3c3c" stroke-width="0.9"/>
<text x="542.2" y="161.7" font-size="7.6" text-anchor="middle" fill="#1a1a1a" stroke="#1a1a1a" stroke-width="0.3" textLength="8.2" lengthAdjust="spacingAndGlyphs">20</text>
<line x1="558.9" y1="150.7" x2="558.9" y2="152.3" stroke="#3c3c3c" stroke-width="0.9"/>
<line x1="575.6" y1="150.7" x2="575.6" y2="153.7" stroke="#3c3c3c" stroke-width="0.9"/>
<text x="575.6" y="161.7" font-size="7.6" text-anchor="middle" fill="#1a1a1a" stroke="#1a1a1a" stroke-width="0.3" textLength="8.2" lengthAdjust="spacingAndGlyphs">40</text>
<line x1="592.3" y1="150.7" x2="592.3" y2="152.3" stroke="#3c3c3c" stroke-width="0.9"/>
<line x1="609" y1="150.7" x2="609" y2="153.7" stroke="#3c3c3c" stroke-width="0.9"/>
<text x="609" y="161.7" font-size="7.6" text-anchor="middle" fill="#1a1a1a" stroke="#1a1a1a" stroke-width="0.3" textLength="8.2" lengthAdjust="spacingAndGlyphs">60</text>
<line x1="625.7" y1="150.7" x2="625.7" y2="152.3" stroke="#3c3c3c" stroke-width="0.9"/>
<line x1="642.4" y1="150.7" x2="642.4" y2="153.7" stroke="#3c3c3c" stroke-width="0.9"/>
<text x="642.4" y="161.7" font-size="7.6" text-anchor="middle" fill="#1a1a1a" stroke="#1a1a1a" stroke-width="0.3" textLength="8.2" lengthAdjust="spacingAndGlyphs">80</text>
<line x1="659.1" y1="150.7" x2="659.1" y2="152.3" stroke="#3c3c3c" stroke-width="0.9"/>
<line x1="675.8" y1="150.7" x2="675.8" y2="153.7" stroke="#3c3c3c" stroke-width="0.9"/>
<text x="675.8" y="161.7" font-size="7.6" text-anchor="middle" fill="#1a1a1a" stroke="#1a1a1a" stroke-width="0.3" textLength="12.2" lengthAdjust="spacingAndGlyphs">100</text>
<line x1="500.55" y1="145.4" x2="497.55" y2="145.4" stroke="#3c3c3c" stroke-width="1"/>
<text x="496.05" y="147.9" font-size="7.8" text-anchor="end" fill="#1a1a1a" stroke="#1a1a1a" stroke-width="0.3" textLength="9.7" lengthAdjust="spacingAndGlyphs">0.0</text>
<line x1="500.55" y1="131.78" x2="498.95" y2="131.78" stroke="#3c3c3c" stroke-width="1"/>
<line x1="500.55" y1="118.15" x2="497.55" y2="118.15" stroke="#3c3c3c" stroke-width="1"/>
<text x="496.05" y="120.65" font-size="7.8" text-anchor="end" fill="#1a1a1a" stroke="#1a1a1a" stroke-width="0.3" textLength="9.7" lengthAdjust="spacingAndGlyphs">0.5</text>
<line x1="500.55" y1="104.53" x2="498.95" y2="104.53" stroke="#3c3c3c" stroke-width="1"/>
<line x1="500.55" y1="90.9" x2="497.55" y2="90.9" stroke="#3c3c3c" stroke-width="1"/>
<text x="496.05" y="93.4" font-size="7.8" text-anchor="end" fill="#1a1a1a" stroke="#1a1a1a" stroke-width="0.3" textLength="8.8" lengthAdjust="spacingAndGlyphs">1.0</text>
<line x1="500.55" y1="77.28" x2="498.95" y2="77.28" stroke="#3c3c3c" stroke-width="1"/>
<line x1="500.55" y1="63.65" x2="497.55" y2="63.65" stroke="#3c3c3c" stroke-width="1"/>
<text x="496.05" y="66.15" font-size="7.8" text-anchor="end" fill="#1a1a1a" stroke="#1a1a1a" stroke-width="0.3" textLength="9.7" lengthAdjust="spacingAndGlyphs">1.5</text>
<line x1="500.55" y1="50.03" x2="498.95" y2="50.03" stroke="#3c3c3c" stroke-width="1"/>
<line x1="500.55" y1="36.4" x2="497.55" y2="36.4" stroke="#3c3c3c" stroke-width="1"/>
<text x="496.05" y="38.9" font-size="7.8" text-anchor="end" fill="#1a1a1a" stroke="#1a1a1a" stroke-width="0.3" textLength="9.7" lengthAdjust="spacingAndGlyphs">2.0</text>
<line x1="500.55" y1="22.78" x2="498.95" y2="22.78" stroke="#3c3c3c" stroke-width="1"/>
<line x1="500.55" y1="9.15" x2="497.55" y2="9.15" stroke="#3c3c3c" stroke-width="1"/>
<text x="496.05" y="11.65" font-size="7.8" text-anchor="end" fill="#1a1a1a" stroke="#1a1a1a" stroke-width="0.3" textLength="9.7" lengthAdjust="spacingAndGlyphs">2.5</text>
<text x="592.3" y="174.2" font-size="8.6" text-anchor="middle" fill="#1a1a1a" stroke="#1a1a1a" stroke-width="0.3" textLength="37.6" lengthAdjust="spacingAndGlyphs">Strain (%)</text>
<text x="481" y="75.6" font-size="8.3" text-anchor="middle" fill="#1a1a1a" stroke="#1a1a1a" stroke-width="0.3" textLength="73.2" lengthAdjust="spacingAndGlyphs" transform="rotate(-90 481 75.6)">Tensile stress (MPa)</text>
<text x="462.1" y="10.7" font-size="14.6" text-anchor="start" fill="#1a1a1a" stroke="#1a1a1a" stroke-width="0.55" textLength="13.6" lengthAdjust="spacingAndGlyphs" font-family='"Liberation Serif", serif'>(c)</text>
<path d="M508.8,142.72C509.13,142.02 509.97,140.5 510.8,138.53C511.64,136.56 512.61,133.72 513.81,130.91C515.01,128.1 516.37,124.84 517.99,121.66C519.6,118.49 521.41,115.23 523.5,111.87C525.58,108.52 527.53,105.62 530.51,101.54C533.49,97.46 537.72,91.78 541.37,87.39C545.01,83 548.74,78.88 552.39,75.21C556.03,71.53 559.6,68.41 563.24,65.36C566.89,62.31 570.59,59.65 574.26,56.93C577.94,54.21 581.61,51.49 585.29,49.04C588.96,46.59 592.63,44.37 596.31,42.24C599.98,40.11 603.66,38.16 607.33,36.26C611,34.35 614.68,32.54 618.35,30.82C622.03,29.09 625.73,27.46 629.37,25.92C633.02,24.38 636.58,22.97 640.23,21.57C643.88,20.16 647.58,18.76 651.25,17.49C654.92,16.22 658.18,15.27 662.27,13.95C666.36,12.64 673.55,10.33 675.8,9.6L675.8,9.6C675.1,11.08 673.02,15.72 671.62,18.51C670.23,21.3 669.98,22.83 667.45,26.33C664.92,29.83 660.1,35.19 656.43,39.52C652.75,43.85 649.08,48.41 645.41,52.3C641.73,56.2 638.06,59.42 634.38,62.91C630.71,66.4 627.04,69.98 623.36,73.25C619.69,76.51 616.04,79.4 612.34,82.5C608.64,85.59 604.88,89 601.15,91.8C597.42,94.61 593.66,96.75 589.96,99.3C586.26,101.85 582.61,104.32 578.94,107.1C575.27,109.88 571.59,113.06 567.92,115.98C564.24,118.91 559.79,121.99 556.9,124.66C554,127.33 553.95,128.62 550.55,132C547.15,135.38 538.86,142.79 536.52,144.95L509.3,144.7" fill="none" stroke="#3d3d3d" stroke-width="1.3" stroke-linejoin="round"/>
<rect x="507.05" y="140.97" width="3.5" height="3.5" fill="#404040"/>
<rect x="528.76" y="99.79" width="3.5" height="3.5" fill="#404040"/>
<rect x="550.64" y="73.46" width="3.5" height="3.5" fill="#404040"/>
<rect x="572.51" y="55.18" width="3.5" height="3.5" fill="#404040"/>
<rect x="594.56" y="40.49" width="3.5" height="3.5" fill="#404040"/>
<rect x="616.6" y="29.07" width="3.5" height="3.5" fill="#404040"/>
<rect x="638.48" y="19.82" width="3.5" height="3.5" fill="#404040"/>
<rect x="660.52" y="12.2" width="3.5" height="3.5" fill="#404040"/>
<rect x="665.7" y="24.58" width="3.5" height="3.5" fill="#404040"/>
<rect x="643.66" y="50.55" width="3.5" height="3.5" fill="#404040"/>
<rect x="621.61" y="71.5" width="3.5" height="3.5" fill="#404040"/>
<rect x="599.4" y="90.05" width="3.5" height="3.5" fill="#404040"/>
<rect x="577.19" y="105.35" width="3.5" height="3.5" fill="#404040"/>
<rect x="555.15" y="122.91" width="3.5" height="3.5" fill="#404040"/>
<rect x="533.44" y="143.2" width="3.5" height="3.5" fill="#404040"/>
<rect x="511.73" y="143.2" width="3.5" height="3.5" fill="#404040"/>
<path d="M508.8,144.95L529.34,144.95L529.34,144.95C529.54,144.69 528.51,146.31 530.51,143.42C532.51,140.54 537.72,132.42 541.37,127.65C545.01,122.88 548.74,118.84 552.39,114.81C556.03,110.77 559.6,106.99 563.24,103.44C566.89,99.89 570.59,96.7 574.26,93.48C577.94,90.27 581.61,87.23 585.29,84.13C588.96,81.03 592.63,77.92 596.31,74.88C599.98,71.84 603.66,68.9 607.33,65.9C611,62.91 614.68,59.97 618.35,56.93C622.03,53.89 625.73,50.85 629.37,47.68C633.02,44.51 636.58,41.15 640.23,37.89C643.88,34.62 647.58,31.36 651.25,28.1C654.92,24.83 658.18,21.39 662.27,18.3C666.36,15.22 673.55,11.05 675.8,9.6L675.8,9.6C675.1,11.06 673.02,15.61 671.62,18.34C670.23,21.07 669.98,22.55 667.45,25.99C664.92,29.43 660.1,34.68 656.43,38.98C652.75,43.27 649.08,47.86 645.41,51.76C641.73,55.66 638.06,58.88 634.38,62.37C630.71,65.86 627.04,69.44 623.36,72.7C619.69,75.97 616.04,78.85 612.34,81.95C608.64,85.05 604.88,88.43 601.15,91.3C597.42,94.18 593.66,96.52 589.96,99.2C586.26,101.89 582.61,104.49 578.94,107.4C575.27,110.31 571.59,113.63 567.92,116.68C564.24,119.74 559.79,123.01 556.9,125.74C554,128.48 553.42,129.89 550.55,133.09C547.68,136.29 541.5,142.97 539.7,144.95L509.3,144.7" fill="none" stroke="#ee3b3b" stroke-width="1.3" stroke-linejoin="round"/>
<circle cx="508.8" cy="144.95" r="1.95" fill="#ea2a2a"/>
<circle cx="530.51" cy="143.42" r="1.95" fill="#ea2a2a"/>
<circle cx="552.39" cy="114.81" r="1.95" fill="#ea2a2a"/>
<circle cx="574.26" cy="93.48" r="1.95" fill="#ea2a2a"/>
<circle cx="596.31" cy="74.88" r="1.95" fill="#ea2a2a"/>
<circle cx="618.35" cy="56.93" r="1.95" fill="#ea2a2a"/>
<circle cx="640.23" cy="37.89" r="1.95" fill="#ea2a2a"/>
<circle cx="662.27" cy="18.3" r="1.95" fill="#ea2a2a"/>
<circle cx="667.45" cy="25.99" r="1.95" fill="#ea2a2a"/>
<circle cx="645.41" cy="51.76" r="1.95" fill="#ea2a2a"/>
<circle cx="623.36" cy="72.7" r="1.95" fill="#ea2a2a"/>
<circle cx="601.15" cy="91.3" r="1.95" fill="#ea2a2a"/>
<circle cx="578.94" cy="107.4" r="1.95" fill="#ea2a2a"/>
<circle cx="556.9" cy="125.74" r="1.95" fill="#ea2a2a"/>
<circle cx="535.19" cy="144.95" r="1.95" fill="#ea2a2a"/>
<circle cx="513.48" cy="144.95" r="1.95" fill="#ea2a2a"/>
<path d="M508.8,144.95L536.19,144.95L536.19,144.95C537.33,143.24 540.34,138.6 543.03,134.72C545.73,130.84 549.02,125.83 552.39,121.66C555.75,117.49 559.6,113.46 563.24,109.7C566.89,105.93 570.59,102.49 574.26,99.09C577.94,95.69 581.61,92.51 585.29,89.3C588.96,86.08 592.63,82.81 596.31,79.78C599.98,76.74 603.66,74.02 607.33,71.07C611,68.13 614.68,65.13 618.35,62.1C622.03,59.06 625.73,55.98 629.37,52.85C633.02,49.72 636.58,46.55 640.23,43.33C643.88,40.11 647.58,36.8 651.25,33.54C654.92,30.27 658.18,27.73 662.27,23.74C666.36,19.75 673.55,11.96 675.8,9.6L675.8,9.6C675.1,11.11 673.02,15.83 671.62,18.68C670.23,21.52 669.98,23.1 667.45,26.67C664.92,30.23 660.1,35.7 656.43,40.06C652.75,44.43 649.08,48.95 645.41,52.85C641.73,56.75 638.06,59.97 634.38,63.46C630.71,66.95 627.04,70.53 623.36,73.79C619.69,77.06 616.04,79.93 612.34,83.04C608.64,86.15 604.88,89.46 601.15,92.46C597.42,95.46 593.66,98.13 589.96,101.04C586.26,103.94 582.61,106.76 578.94,109.9C575.27,113.03 571.59,116.57 567.92,119.85C564.24,123.12 559.79,126.71 556.9,129.55C554,132.39 553,134.33 550.55,136.9C548.1,139.46 543.59,143.61 542.2,144.95L509.3,144.7" fill="none" stroke="#3477e0" stroke-width="1.3" stroke-linejoin="round"/>
<path d="M508.8,142.7L510.95,146.7L506.65,146.7Z" fill="#1f5fd6"/>
<path d="M530.51,142.7L532.66,146.7L528.36,146.7Z" fill="#1f5fd6"/>
<path d="M552.39,119.41L554.54,123.41L550.24,123.41Z" fill="#1f5fd6"/>
<path d="M574.26,96.84L576.41,100.84L572.11,100.84Z" fill="#1f5fd6"/>
<path d="M596.31,77.53L598.46,81.53L594.16,81.53Z" fill="#1f5fd6"/>
<path d="M618.35,59.85L620.5,63.85L616.2,63.85Z" fill="#1f5fd6"/>
<path d="M640.23,41.08L642.38,45.08L638.08,45.08Z" fill="#1f5fd6"/>
<path d="M662.27,21.49L664.42,25.49L660.12,25.49Z" fill="#1f5fd6"/>
<path d="M667.45,24.42L669.6,28.42L665.3,28.42Z" fill="#1f5fd6"/>
<path d="M645.41,50.6L647.56,54.6L643.26,54.6Z" fill="#1f5fd6"/>
<path d="M623.36,71.54L625.51,75.54L621.21,75.54Z" fill="#1f5fd6"/>
<path d="M601.15,90.21L603.3,94.21L599,94.21Z" fill="#1f5fd6"/>
<path d="M578.94,107.65L581.09,111.65L576.79,111.65Z" fill="#1f5fd6"/>
<path d="M556.9,127.3L559.05,131.3L554.75,131.3Z" fill="#1f5fd6"/>
<path d="M535.19,142.7L537.34,146.7L533.04,146.7Z" fill="#1f5fd6"/>
<path d="M513.48,142.7L515.63,146.7L511.33,146.7Z" fill="#1f5fd6"/>
<path d="M508.8,144.95L537.86,144.95L537.86,144.95C538.86,143.7 541.45,140.45 543.87,137.44C546.29,134.43 549.16,130.83 552.39,126.89C555.62,122.94 559.6,117.91 563.24,113.78C566.89,109.64 570.59,105.75 574.26,102.08C577.94,98.41 581.61,95.1 585.29,91.74C588.96,88.39 592.63,85.08 596.31,81.95C599.98,78.82 603.66,75.97 607.33,72.98C611,69.98 614.68,67.08 618.35,64C622.03,60.92 625.73,57.65 629.37,54.48C633.02,51.31 636.58,48.18 640.23,44.96C643.88,41.74 647.58,38.34 651.25,35.17C654.92,31.99 658.18,30.18 662.27,25.92C666.36,21.66 673.55,12.32 675.8,9.6L675.8,9.6C675.1,11.08 673.02,15.72 671.62,18.51C670.23,21.3 669.98,22.83 667.45,26.33C664.92,29.83 660.1,35.19 656.43,39.52C652.75,43.85 649.08,48.41 645.41,52.3C641.73,56.2 638.06,59.42 634.38,62.91C630.71,66.4 627.04,69.98 623.36,73.25C619.69,76.51 616.04,79.38 612.34,82.5C608.64,85.62 604.88,88.88 601.15,91.97C597.42,95.05 593.66,97.95 589.96,101.01C586.26,104.08 582.61,107.05 578.94,110.34C575.27,113.63 571.59,117.33 567.92,120.76C564.24,124.18 559.79,128 556.9,130.91C554,133.83 552.64,135.92 550.55,138.26C548.46,140.6 545.4,143.83 544.37,144.95L509.3,144.7" fill="none" stroke="#3cae68" stroke-width="1.3" stroke-linejoin="round"/>
<path d="M508.8,147.2L510.95,143.2L506.65,143.2Z" fill="#2a9c55"/>
<path d="M530.51,147.2L532.66,143.2L528.36,143.2Z" fill="#2a9c55"/>
<path d="M552.39,129.14L554.54,125.14L550.24,125.14Z" fill="#2a9c55"/>
<path d="M574.26,104.33L576.41,100.33L572.11,100.33Z" fill="#2a9c55"/>
<path d="M596.31,84.2L598.46,80.2L594.16,80.2Z" fill="#2a9c55"/>
<path d="M618.35,66.25L620.5,62.25L616.2,62.25Z" fill="#2a9c55"/>
<path d="M640.23,47.21L642.38,43.21L638.08,43.21Z" fill="#2a9c55"/>
<path d="M662.27,28.17L664.42,24.17L660.12,24.17Z" fill="#2a9c55"/>
<path d="M667.45,28.58L669.6,24.58L665.3,24.58Z" fill="#2a9c55"/>
<path d="M645.41,54.55L647.56,50.55L643.26,50.55Z" fill="#2a9c55"/>
<path d="M623.36,75.5L625.51,71.5L621.21,71.5Z" fill="#2a9c55"/>
<path d="M601.15,94.22L603.3,90.22L599,90.22Z" fill="#2a9c55"/>
<path d="M578.94,112.59L581.09,108.59L576.79,108.59Z" fill="#2a9c55"/>
<path d="M556.9,133.16L559.05,129.16L554.75,129.16Z" fill="#2a9c55"/>
<path d="M535.19,147.2L537.34,143.2L533.04,143.2Z" fill="#2a9c55"/>
<path d="M513.48,147.2L515.63,143.2L511.33,143.2Z" fill="#2a9c55"/>
<path d="M508.8,144.95L539.53,144.95L539.53,144.95C540.47,144.06 543.06,142.05 545.21,139.62C547.35,137.19 549.38,134.22 552.39,130.37C555.39,126.51 559.6,120.81 563.24,116.5C566.89,112.18 570.59,108.24 574.26,104.47C577.94,100.71 581.61,97.31 585.29,93.92C588.96,90.53 592.63,87.3 596.31,84.13C599.98,80.95 603.66,77.96 607.33,74.88C611,71.8 614.68,68.81 618.35,65.63C622.03,62.46 625.73,59.1 629.37,55.84C633.02,52.58 636.58,49.22 640.23,46.05C643.88,42.87 647.58,39.88 651.25,36.8C654.92,33.72 658.18,32.09 662.27,27.55C666.36,23.02 673.55,12.59 675.8,9.6L675.8,9.6C675.1,11.14 673.02,15.95 671.62,18.85C670.23,21.75 669.98,23.38 667.45,27.01C664.92,30.63 660.1,36.21 656.43,40.61C652.75,45.01 649.08,49.49 645.41,53.39C641.73,57.29 638.06,60.51 634.38,64C630.71,67.49 627.04,71.07 623.36,74.34C619.69,77.6 616.04,80.46 612.34,83.58C608.64,86.71 604.88,89.93 601.15,93.1C597.42,96.28 593.66,99.41 589.96,102.62C586.26,105.84 582.61,108.97 578.94,112.42C575.27,115.86 571.59,119.71 567.92,123.3C564.24,126.88 559.79,130.91 556.9,133.9C554,136.9 552.33,139.41 550.55,141.25C548.77,143.09 546.93,144.33 546.21,144.95L509.3,144.7" fill="none" stroke="#a874e8" stroke-width="1.3" stroke-linejoin="round"/>
<path d="M508.8,142.45L511.1,144.95L508.8,147.45L506.5,144.95Z" fill="#9c60e4"/>
<path d="M530.51,142.45L532.81,144.95L530.51,147.45L528.21,144.95Z" fill="#9c60e4"/>
<path d="M552.39,127.87L554.69,130.37L552.39,132.87L550.09,130.37Z" fill="#9c60e4"/>
<path d="M574.26,101.97L576.56,104.47L574.26,106.97L571.96,104.47Z" fill="#9c60e4"/>
<path d="M596.31,81.63L598.61,84.13L596.31,86.63L594.01,84.13Z" fill="#9c60e4"/>
<path d="M618.35,63.13L620.65,65.63L618.35,68.13L616.05,65.63Z" fill="#9c60e4"/>
<path d="M640.23,43.55L642.53,46.05L640.23,48.55L637.93,46.05Z" fill="#9c60e4"/>
<path d="M662.27,25.05L664.57,27.55L662.27,30.05L659.97,27.55Z" fill="#9c60e4"/>
<path d="M667.45,24.51L669.75,27.01L667.45,29.51L665.15,27.01Z" fill="#9c60e4"/>
<path d="M645.41,50.89L647.71,53.39L645.41,55.89L643.11,53.39Z" fill="#9c60e4"/>
<path d="M623.36,71.84L625.66,74.34L623.36,76.84L621.06,74.34Z" fill="#9c60e4"/>
<path d="M601.15,90.6L603.45,93.1L601.15,95.6L598.85,93.1Z" fill="#9c60e4"/>
<path d="M578.94,109.92L581.24,112.42L578.94,114.92L576.64,112.42Z" fill="#9c60e4"/>
<path d="M556.9,131.4L559.2,133.9L556.9,136.4L554.6,133.9Z" fill="#9c60e4"/>
<path d="M535.19,142.45L537.49,144.95L535.19,147.45L532.89,144.95Z" fill="#9c60e4"/>
<path d="M513.48,142.45L515.78,144.95L513.48,147.45L511.18,144.95Z" fill="#9c60e4"/>
<line x1="509.4" y1="12.2" x2="527.7" y2="12.2" stroke="#3d3d3d" stroke-width="1.2"/>
<rect x="516.85" y="10.45" width="3.5" height="3.5" fill="#404040"/>
<text x="530.4" y="14.65" font-size="7.2" text-anchor="start" fill="#1a1a1a" stroke="#1a1a1a" stroke-width="0.3" textLength="26.3" lengthAdjust="spacingAndGlyphs">1st cycle</text>
<line x1="509.4" y1="21.08" x2="527.7" y2="21.08" stroke="#ee3b3b" stroke-width="1.2"/>
<circle cx="518.6" cy="21.08" r="1.95" fill="#ea2a2a"/>
<text x="530.4" y="23.53" font-size="7.2" text-anchor="start" fill="#1a1a1a" stroke="#1a1a1a" stroke-width="0.3" textLength="28.4" lengthAdjust="spacingAndGlyphs">2nd cycle</text>
<line x1="509.4" y1="29.96" x2="527.7" y2="29.96" stroke="#3477e0" stroke-width="1.2"/>
<path d="M518.6,27.71L520.75,31.71L516.45,31.71Z" fill="#1f5fd6"/>
<text x="530.4" y="32.41" font-size="7.2" text-anchor="start" fill="#1a1a1a" stroke="#1a1a1a" stroke-width="0.3" textLength="27.8" lengthAdjust="spacingAndGlyphs">3rd cycle</text>
<line x1="509.4" y1="38.84" x2="527.7" y2="38.84" stroke="#3cae68" stroke-width="1.2"/>
<path d="M518.6,41.09L520.75,37.09L516.45,37.09Z" fill="#2a9c55"/>
<text x="530.4" y="41.29" font-size="7.2" text-anchor="start" fill="#1a1a1a" stroke="#1a1a1a" stroke-width="0.3" textLength="27.6" lengthAdjust="spacingAndGlyphs">4th cycle</text>
<line x1="509.4" y1="47.72" x2="527.7" y2="47.72" stroke="#a874e8" stroke-width="1.2"/>
<path d="M518.6,45.22L520.9,47.72L518.6,50.22L516.3,47.72Z" fill="#9c60e4"/>
<text x="530.4" y="50.17" font-size="7.2" text-anchor="start" fill="#1a1a1a" stroke="#1a1a1a" stroke-width="0.3" textLength="27.6" lengthAdjust="spacingAndGlyphs">5th cycle</text>
<line x1="110.8" y1="87.7" x2="138.19" y2="80.81" stroke="#111" stroke-width="1.05"/>
<path d="M141.58,79.95L138.13,82.63L137.28,79.23Z" fill="#111"/>
<line x1="131.3" y1="121.3" x2="157.81" y2="105.49" stroke="#111" stroke-width="1.05"/>
<path d="M160.82,103.69L158.28,107.24L156.48,104.24Z" fill="#111"/>
<line x1="195.9" y1="110.5" x2="170.89" y2="127.66" stroke="#111" stroke-width="1.05"/>
<path d="M168.01,129.64L170.31,125.93L172.29,128.82Z" fill="#111"/>
<line x1="344.3" y1="49.9" x2="369.79" y2="37.56" stroke="#111" stroke-width="1.05"/>
<path d="M372.94,36.04L370.1,39.36L368.58,36.21Z" fill="#111"/>
<line x1="355.6" y1="93.9" x2="380.42" y2="74.39" stroke="#111" stroke-width="1.05"/>
<path d="M383.17,72.23L381.11,76.08L378.95,73.33Z" fill="#111"/>
<line x1="414.2" y1="83.5" x2="391.73" y2="102.24" stroke="#111" stroke-width="1.05"/>
<path d="M389.04,104.48L390.99,100.58L393.23,103.27Z" fill="#111"/>
<line x1="569.7" y1="50.6" x2="593.38" y2="37.13" stroke="#111" stroke-width="1.05"/>
<path d="M596.42,35.4L593.81,38.9L592.08,35.86Z" fill="#111"/>
<line x1="576.6" y1="83.9" x2="601.81" y2="64.38" stroke="#111" stroke-width="1.05"/>
<path d="M604.57,62.23L602.48,66.07L600.34,63.3Z" fill="#111"/>
<line x1="634.8" y1="73.6" x2="612.21" y2="92.82" stroke="#111" stroke-width="1.05"/>
<path d="M609.54,95.09L611.46,91.16L613.72,93.83Z" fill="#111"/>
<rect x="171.6" y="194.6" width="183.8" height="146.5" fill="none" stroke="#3c3c3c" stroke-width="1.05"/>
<line x1="171.6" y1="341.4" x2="168.6" y2="341.4" stroke="#3c3c3c" stroke-width="1"/>
<text x="166.9" y="343.9" font-size="7.6" text-anchor="end" fill="#1a1a1a" stroke="#1a1a1a" stroke-width="0.3" textLength="9.4" lengthAdjust="spacingAndGlyphs">0.0</text>
<line x1="171.6" y1="327.29" x2="170" y2="327.29" stroke="#3c3c3c" stroke-width="1"/>
<line x1="171.6" y1="313.18" x2="168.6" y2="313.18" stroke="#3c3c3c" stroke-width="1"/>
<text x="166.9" y="315.68" font-size="7.6" text-anchor="end" fill="#1a1a1a" stroke="#1a1a1a" stroke-width="0.3" textLength="9.4" lengthAdjust="spacingAndGlyphs">0.5</text>
<line x1="171.6" y1="299.06" x2="170" y2="299.06" stroke="#3c3c3c" stroke-width="1"/>
<line x1="171.6" y1="284.95" x2="168.6" y2="284.95" stroke="#3c3c3c" stroke-width="1"/>
<text x="166.9" y="287.45" font-size="7.6" text-anchor="end" fill="#1a1a1a" stroke="#1a1a1a" stroke-width="0.3" textLength="8.8" lengthAdjust="spacingAndGlyphs">1.0</text>
<line x1="171.6" y1="270.84" x2="170" y2="270.84" stroke="#3c3c3c" stroke-width="1"/>
<line x1="171.6" y1="256.73" x2="168.6" y2="256.73" stroke="#3c3c3c" stroke-width="1"/>
<text x="166.9" y="259.23" font-size="7.6" text-anchor="end" fill="#1a1a1a" stroke="#1a1a1a" stroke-width="0.3" textLength="9.4" lengthAdjust="spacingAndGlyphs">1.5</text>
<line x1="171.6" y1="242.61" x2="170" y2="242.61" stroke="#3c3c3c" stroke-width="1"/>
<line x1="171.6" y1="228.5" x2="168.6" y2="228.5" stroke="#3c3c3c" stroke-width="1"/>
<text x="166.9" y="231" font-size="7.6" text-anchor="end" fill="#1a1a1a" stroke="#1a1a1a" stroke-width="0.3" textLength="9.4" lengthAdjust="spacingAndGlyphs">2.0</text>
<line x1="171.6" y1="214.39" x2="170" y2="214.39" stroke="#3c3c3c" stroke-width="1"/>
<line x1="171.6" y1="200.28" x2="168.6" y2="200.28" stroke="#3c3c3c" stroke-width="1"/>
<text x="166.9" y="202.78" font-size="7.6" text-anchor="end" fill="#1a1a1a" stroke="#1a1a1a" stroke-width="0.3" textLength="9.4" lengthAdjust="spacingAndGlyphs">2.5</text>
<rect x="177.2" y="271.57" width="9.9" height="69.53" fill="#000" stroke="#111" stroke-width="0.9"/>
<line x1="182.15" y1="270.16" x2="182.15" y2="271.57" stroke="#666" stroke-width="0.7"/>
<line x1="180.35" y1="270.16" x2="183.95" y2="270.16" stroke="#666" stroke-width="0.7"/>
<rect x="187.1" y="271.57" width="9.9" height="69.53" fill="url(#p2)" stroke="#111" stroke-width="0.9"/>
<line x1="192.05" y1="270.16" x2="192.05" y2="271.57" stroke="#666" stroke-width="0.7"/>
<line x1="190.25" y1="270.16" x2="193.85" y2="270.16" stroke="#666" stroke-width="0.7"/>
<rect x="197" y="271.57" width="9.9" height="69.53" fill="url(#p3)" stroke="#111" stroke-width="0.9"/>
<line x1="201.95" y1="270.16" x2="201.95" y2="271.57" stroke="#666" stroke-width="0.7"/>
<line x1="200.15" y1="270.16" x2="203.75" y2="270.16" stroke="#666" stroke-width="0.7"/>
<rect x="206.9" y="271.57" width="9.9" height="69.53" fill="url(#p4)" stroke="#111" stroke-width="0.9"/>
<line x1="211.85" y1="270.16" x2="211.85" y2="271.57" stroke="#666" stroke-width="0.7"/>
<line x1="210.05" y1="270.16" x2="213.65" y2="270.16" stroke="#666" stroke-width="0.7"/>
<rect x="216.8" y="271.57" width="9.9" height="69.53" fill="#f1f1f1" stroke="#111" stroke-width="0.9"/>
<line x1="221.75" y1="270.16" x2="221.75" y2="271.57" stroke="#666" stroke-width="0.7"/>
<line x1="219.95" y1="270.16" x2="223.55" y2="270.16" stroke="#666" stroke-width="0.7"/>
<line x1="201.95" y1="341.1" x2="201.95" y2="343.3" stroke="#3c3c3c" stroke-width="0.9"/>
<rect x="238.5" y="205.47" width="9.9" height="135.63" fill="#000" stroke="#111" stroke-width="0.9"/>
<line x1="243.45" y1="203.77" x2="243.45" y2="205.47" stroke="#666" stroke-width="0.7"/>
<line x1="241.65" y1="203.77" x2="245.25" y2="203.77" stroke="#666" stroke-width="0.7"/>
<rect x="248.4" y="207.22" width="9.9" height="133.88" fill="url(#p2)" stroke="#111" stroke-width="0.9"/>
<line x1="253.35" y1="206.2" x2="253.35" y2="207.22" stroke="#666" stroke-width="0.7"/>
<line x1="251.55" y1="206.2" x2="255.15" y2="206.2" stroke="#666" stroke-width="0.7"/>
<rect x="258.3" y="207.5" width="9.9" height="133.6" fill="url(#p3)" stroke="#111" stroke-width="0.9"/>
<line x1="263.25" y1="206.65" x2="263.25" y2="207.5" stroke="#666" stroke-width="0.7"/>
<line x1="261.45" y1="206.65" x2="265.05" y2="206.65" stroke="#666" stroke-width="0.7"/>
<rect x="268.2" y="207.73" width="9.9" height="133.37" fill="url(#p4)" stroke="#111" stroke-width="0.9"/>
<line x1="273.15" y1="206.88" x2="273.15" y2="207.73" stroke="#666" stroke-width="0.7"/>
<line x1="271.35" y1="206.88" x2="274.95" y2="206.88" stroke="#666" stroke-width="0.7"/>
<rect x="278.1" y="208.46" width="9.9" height="132.64" fill="#f1f1f1" stroke="#111" stroke-width="0.9"/>
<line x1="283.05" y1="207.33" x2="283.05" y2="208.46" stroke="#666" stroke-width="0.7"/>
<line x1="281.25" y1="207.33" x2="284.85" y2="207.33" stroke="#666" stroke-width="0.7"/>
<line x1="263.25" y1="341.1" x2="263.25" y2="343.3" stroke="#3c3c3c" stroke-width="0.9"/>
<rect x="299.9" y="200.44" width="9.9" height="140.66" fill="#000" stroke="#111" stroke-width="0.9"/>
<line x1="304.85" y1="199.6" x2="304.85" y2="200.44" stroke="#666" stroke-width="0.7"/>
<line x1="303.05" y1="199.6" x2="306.65" y2="199.6" stroke="#666" stroke-width="0.7"/>
<rect x="309.8" y="200.67" width="9.9" height="140.43" fill="url(#p2)" stroke="#111" stroke-width="0.9"/>
<line x1="314.75" y1="199.82" x2="314.75" y2="200.67" stroke="#666" stroke-width="0.7"/>
<line x1="312.95" y1="199.82" x2="316.55" y2="199.82" stroke="#666" stroke-width="0.7"/>
<rect x="319.7" y="201.63" width="9.9" height="139.47" fill="url(#p3)" stroke="#111" stroke-width="0.9"/>
<line x1="324.65" y1="201.07" x2="324.65" y2="201.63" stroke="#666" stroke-width="0.7"/>
<line x1="322.85" y1="201.07" x2="326.45" y2="201.07" stroke="#666" stroke-width="0.7"/>
<rect x="329.6" y="201.69" width="9.9" height="139.41" fill="url(#p4)" stroke="#111" stroke-width="0.9"/>
<line x1="334.55" y1="201.12" x2="334.55" y2="201.69" stroke="#666" stroke-width="0.7"/>
<line x1="332.75" y1="201.12" x2="336.35" y2="201.12" stroke="#666" stroke-width="0.7"/>
<rect x="339.5" y="201.63" width="9.9" height="139.47" fill="#f1f1f1" stroke="#111" stroke-width="0.9"/>
<line x1="344.45" y1="200.95" x2="344.45" y2="201.63" stroke="#666" stroke-width="0.7"/>
<line x1="342.65" y1="200.95" x2="346.25" y2="200.95" stroke="#666" stroke-width="0.7"/>
<line x1="324.65" y1="341.1" x2="324.65" y2="343.3" stroke="#3c3c3c" stroke-width="0.9"/>
<text x="201.9" y="352.6" font-size="7.4" text-anchor="middle" fill="#1a1a1a" stroke="#1a1a1a" stroke-width="0.3" textLength="29.6" lengthAdjust="spacingAndGlyphs">BPU−CO</text>
<text x="263.4" y="352.6" font-size="7.4" text-anchor="middle" fill="#1a1a1a" stroke="#1a1a1a" stroke-width="0.3" textLength="35.6" lengthAdjust="spacingAndGlyphs">BPU−COM</text>
<text x="324.4" y="352.6" font-size="7.4" text-anchor="middle" fill="#1a1a1a" stroke="#1a1a1a" stroke-width="0.3" textLength="33.4" lengthAdjust="spacingAndGlyphs">BPU−COT</text>
<text x="263.5" y="367.6" font-size="8.6" text-anchor="middle" fill="#1a1a1a" stroke="#1a1a1a" stroke-width="0.3" textLength="31" lengthAdjust="spacingAndGlyphs">Samples</text>
<text x="153.3" y="267.4" font-size="8.7" text-anchor="middle" fill="#1a1a1a" stroke="#1a1a1a" stroke-width="0.3" textLength="113.8" lengthAdjust="spacingAndGlyphs" transform="rotate(-90 153.3 267.4)">Maximum cyclic stress (MPa)</text>
<text x="134" y="201.6" font-size="14.6" text-anchor="start" fill="#1a1a1a" stroke="#1a1a1a" stroke-width="0.55" textLength="14.8" lengthAdjust="spacingAndGlyphs" font-family='"Liberation Serif", serif'>(d)</text>
<rect x="174.2" y="198.1" width="17.9" height="8.4" fill="#000" stroke="#111" stroke-width="0.9"/>
<text x="195.3" y="204.7" font-size="7.2" text-anchor="start" fill="#1a1a1a" stroke="#1a1a1a" stroke-width="0.3" textLength="8.8" lengthAdjust="spacingAndGlyphs">1st</text>
<rect x="174.2" y="208" width="17.9" height="8.4" fill="url(#p2)" stroke="#111" stroke-width="0.9"/>
<text x="195.3" y="214.6" font-size="7.2" text-anchor="start" fill="#1a1a1a" stroke="#1a1a1a" stroke-width="0.3" textLength="11.2" lengthAdjust="spacingAndGlyphs">2nd</text>
<rect x="174.2" y="217.9" width="17.9" height="8.4" fill="url(#p3)" stroke="#111" stroke-width="0.9"/>
<text x="195.3" y="224.5" font-size="7.2" text-anchor="start" fill="#1a1a1a" stroke="#1a1a1a" stroke-width="0.3" textLength="10.8" lengthAdjust="spacingAndGlyphs">3rd</text>
<rect x="174.2" y="227.8" width="17.9" height="8.4" fill="url(#p4)" stroke="#111" stroke-width="0.9"/>
<text x="195.3" y="234.4" font-size="7.2" text-anchor="start" fill="#1a1a1a" stroke="#1a1a1a" stroke-width="0.3" textLength="10.6" lengthAdjust="spacingAndGlyphs">4th</text>
<rect x="174.2" y="237.7" width="17.9" height="8.4" fill="#f1f1f1" stroke="#111" stroke-width="0.9"/>
<text x="195.3" y="244.3" font-size="7.2" text-anchor="start" fill="#1a1a1a" stroke="#1a1a1a" stroke-width="0.3" textLength="10.6" lengthAdjust="spacingAndGlyphs">5th</text>
<rect x="402.6" y="194.3" width="183.8" height="147" fill="none" stroke="#3c3c3c" stroke-width="1.05"/>
<line x1="402.6" y1="341.3" x2="399.6" y2="341.3" stroke="#3c3c3c" stroke-width="1"/>
<text x="397.9" y="343.9" font-size="7.5" text-anchor="end" fill="#1a1a1a" stroke="#1a1a1a" stroke-width="0.3" textLength="7.6" lengthAdjust="spacingAndGlyphs">10</text>
<line x1="402.6" y1="326.6" x2="401" y2="326.6" stroke="#3c3c3c" stroke-width="1"/>
<line x1="402.6" y1="311.9" x2="399.6" y2="311.9" stroke="#3c3c3c" stroke-width="1"/>
<text x="397.9" y="314.5" font-size="7.5" text-anchor="end" fill="#1a1a1a" stroke="#1a1a1a" stroke-width="0.3" textLength="7.6" lengthAdjust="spacingAndGlyphs">20</text>
<line x1="402.6" y1="297.2" x2="401" y2="297.2" stroke="#3c3c3c" stroke-width="1"/>
<line x1="402.6" y1="282.5" x2="399.6" y2="282.5" stroke="#3c3c3c" stroke-width="1"/>
<text x="397.9" y="285.1" font-size="7.5" text-anchor="end" fill="#1a1a1a" stroke="#1a1a1a" stroke-width="0.3" textLength="7.6" lengthAdjust="spacingAndGlyphs">30</text>
<line x1="402.6" y1="267.8" x2="401" y2="267.8" stroke="#3c3c3c" stroke-width="1"/>
<line x1="402.6" y1="253.1" x2="399.6" y2="253.1" stroke="#3c3c3c" stroke-width="1"/>
<text x="397.9" y="255.7" font-size="7.5" text-anchor="end" fill="#1a1a1a" stroke="#1a1a1a" stroke-width="0.3" textLength="7.6" lengthAdjust="spacingAndGlyphs">40</text>
<line x1="402.6" y1="238.4" x2="401" y2="238.4" stroke="#3c3c3c" stroke-width="1"/>
<line x1="402.6" y1="223.7" x2="399.6" y2="223.7" stroke="#3c3c3c" stroke-width="1"/>
<text x="397.9" y="226.3" font-size="7.5" text-anchor="end" fill="#1a1a1a" stroke="#1a1a1a" stroke-width="0.3" textLength="7.6" lengthAdjust="spacingAndGlyphs">50</text>
<line x1="402.6" y1="209" x2="401" y2="209" stroke="#3c3c3c" stroke-width="1"/>
<line x1="402.6" y1="194.3" x2="399.6" y2="194.3" stroke="#3c3c3c" stroke-width="1"/>
<text x="397.9" y="196.9" font-size="7.5" text-anchor="end" fill="#1a1a1a" stroke="#1a1a1a" stroke-width="0.3" textLength="7.6" lengthAdjust="spacingAndGlyphs">60</text>
<line x1="420.5" y1="341.3" x2="420.5" y2="343.5" stroke="#3c3c3c" stroke-width="0.9"/>
<text x="420.5" y="352.6" font-size="7.7" text-anchor="middle" fill="#1a1a1a" stroke="#1a1a1a" stroke-width="0.3" textLength="3.9" lengthAdjust="spacingAndGlyphs">1</text>
<line x1="457.2" y1="341.3" x2="457.2" y2="343.5" stroke="#3c3c3c" stroke-width="0.9"/>
<text x="457.2" y="352.6" font-size="7.7" text-anchor="middle" fill="#1a1a1a" stroke="#1a1a1a" stroke-width="0.3" textLength="3.9" lengthAdjust="spacingAndGlyphs">2</text>
<line x1="493.9" y1="341.3" x2="493.9" y2="343.5" stroke="#3c3c3c" stroke-width="0.9"/>
<text x="493.9" y="352.6" font-size="7.7" text-anchor="middle" fill="#1a1a1a" stroke="#1a1a1a" stroke-width="0.3" textLength="3.9" lengthAdjust="spacingAndGlyphs">3</text>
<line x1="530.6" y1="341.3" x2="530.6" y2="343.5" stroke="#3c3c3c" stroke-width="0.9"/>
<text x="530.6" y="352.6" font-size="7.7" text-anchor="middle" fill="#1a1a1a" stroke="#1a1a1a" stroke-width="0.3" textLength="3.9" lengthAdjust="spacingAndGlyphs">4</text>
<line x1="567.3" y1="341.3" x2="567.3" y2="343.5" stroke="#3c3c3c" stroke-width="0.9"/>
<text x="567.3" y="352.6" font-size="7.7" text-anchor="middle" fill="#1a1a1a" stroke="#1a1a1a" stroke-width="0.3" textLength="3.9" lengthAdjust="spacingAndGlyphs">5</text>
<text x="494.3" y="365.6" font-size="8.6" text-anchor="middle" fill="#1a1a1a" stroke="#1a1a1a" stroke-width="0.3" textLength="69.4" lengthAdjust="spacingAndGlyphs">Number of cycles</text>
<text x="383.6" y="265.8" font-size="8.4" text-anchor="middle" fill="#1a1a1a" stroke="#1a1a1a" stroke-width="0.3" textLength="79" lengthAdjust="spacingAndGlyphs" transform="rotate(-90 383.6 265.8)">Residual strain (%)</text>
<text x="365.6" y="201.6" font-size="14.6" text-anchor="start" fill="#1a1a1a" stroke="#1a1a1a" stroke-width="0.55" textLength="14.2" lengthAdjust="spacingAndGlyphs" font-family='"Liberation Serif", serif'>(e)</text>
<path d="M420.5,250.66L567.3,221.85" stroke="#333" stroke-width="0.8" stroke-dasharray="2.6,1.8" fill="none"/>
<path d="M420.5,253.16C426.62,251.49 444.97,246.52 457.2,243.16C469.43,239.81 481.67,235.69 493.9,233.02C506.13,230.35 518.37,228.41 530.6,227.14C542.83,225.87 561.18,225.67 567.3,225.38" stroke="#333" stroke-width="1" fill="none"/>
<circle cx="420.5" cy="253.16" r="2.9" fill="url(#gk)"/>
<circle cx="457.2" cy="243.16" r="2.9" fill="url(#gk)"/>
<circle cx="493.9" cy="233.02" r="2.9" fill="url(#gk)"/>
<circle cx="530.6" cy="227.14" r="2.9" fill="url(#gk)"/>
<circle cx="567.3" cy="225.38" r="2.9" fill="url(#gk)"/>
<path d="M420.5,293.94L567.3,268.77" stroke="#e84545" stroke-width="0.8" stroke-dasharray="2.6,1.8" fill="none"/>
<path d="M420.5,295.94C426.62,294.27 444.97,288.49 457.2,285.94C469.43,283.39 481.67,282.61 493.9,280.65C506.13,278.69 518.37,275.89 530.6,274.18C542.83,272.47 561.18,271 567.3,270.36" stroke="#e84545" stroke-width="1" fill="none"/>
<circle cx="420.5" cy="295.94" r="2.9" fill="url(#gr)"/>
<circle cx="457.2" cy="285.94" r="2.9" fill="url(#gr)"/>
<circle cx="493.9" cy="280.65" r="2.9" fill="url(#gr)"/>
<circle cx="530.6" cy="274.18" r="2.9" fill="url(#gr)"/>
<circle cx="567.3" cy="270.36" r="2.9" fill="url(#gr)"/>
<path d="M420.5,323.63L567.3,306.11" stroke="#3a7de0" stroke-width="0.8" stroke-dasharray="2.6,1.8" fill="none"/>
<path d="M420.5,325.04C426.62,324.06 444.97,321.27 457.2,319.16C469.43,317.06 481.67,313.92 493.9,312.4C506.13,310.88 518.37,310.83 530.6,310.05C542.83,309.26 561.18,308.09 567.3,307.7" stroke="#3a7de0" stroke-width="1" fill="none"/>
<circle cx="420.5" cy="325.04" r="2.9" fill="url(#gb)"/>
<circle cx="457.2" cy="319.16" r="2.9" fill="url(#gb)"/>
<circle cx="493.9" cy="312.4" r="2.9" fill="url(#gb)"/>
<circle cx="530.6" cy="310.05" r="2.9" fill="url(#gb)"/>
<circle cx="567.3" cy="307.7" r="2.9" fill="url(#gb)"/>
<rect x="405.3" y="196.9" width="61.9" height="30.1" fill="#fff" stroke="#c4c4c4" stroke-width="0.8"/>
<line x1="406.4" y1="202.5" x2="424.8" y2="202.5" stroke="#333" stroke-width="1"/>
<circle cx="415.4" cy="202.5" r="2.7" fill="url(#gk)"/>
<text x="426.9" y="205" font-size="7" text-anchor="start" fill="#1a1a1a" stroke="#1a1a1a" stroke-width="0.3" textLength="32.8" lengthAdjust="spacingAndGlyphs">SMPU-CO</text>
<line x1="406.4" y1="212.15" x2="424.8" y2="212.15" stroke="#e84545" stroke-width="1"/>
<circle cx="415.4" cy="212.15" r="2.7" fill="url(#gr)"/>
<text x="426.9" y="214.65" font-size="7" text-anchor="start" fill="#1a1a1a" stroke="#1a1a1a" stroke-width="0.3" textLength="39.2" lengthAdjust="spacingAndGlyphs">SMPU-COM</text>
<line x1="406.4" y1="221.8" x2="424.8" y2="221.8" stroke="#3a7de0" stroke-width="1"/>
<circle cx="415.4" cy="221.8" r="2.7" fill="url(#gb)"/>
<text x="426.9" y="224.3" font-size="7" text-anchor="start" fill="#1a1a1a" stroke="#1a1a1a" stroke-width="0.3" textLength="36.8" lengthAdjust="spacingAndGlyphs">SMPU-COT</text></svg>
</body></html>
